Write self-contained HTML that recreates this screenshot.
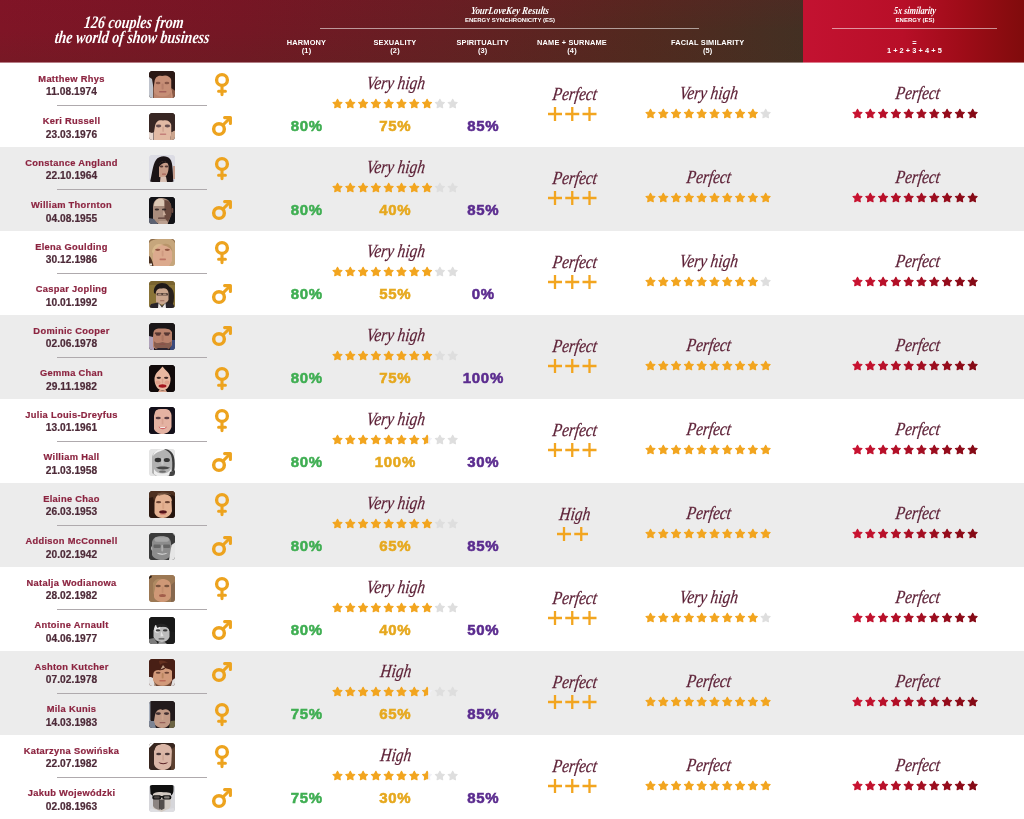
<!DOCTYPE html>
<html lang="en"><head><meta charset="utf-8"><title>126 couples from the world of show business</title>
<style>
html,body{margin:0;padding:0}
body{width:1024px;height:819px;position:relative;overflow:hidden;background:#fff;font-family:"Liberation Sans",sans-serif}
#hl,#hl2{position:absolute;left:0;top:0;width:802.5px;height:62px;background:linear-gradient(180deg,rgba(140,10,40,.10),rgba(140,10,40,0) 50%,rgba(70,50,30,.12)),linear-gradient(90deg,#7f1526 0%,#741724 30%,#661f23 55%,#52291f 80%,#433023 100%)}
#hr,#hr2{position:absolute;left:802.5px;top:0;width:221.5px;height:62px;background:linear-gradient(90deg,#c31231 0%,#b80f28 45%,#9f0c18 72%,#800c0c 100%)}
#hl2,#hr2{top:62px;height:1px;opacity:.55}
.hd{position:absolute;color:#fff;text-align:center;white-space:nowrap}
.ttl{font-family:"Liberation Serif",serif;font-style:italic;font-weight:bold;font-size:17.5px;line-height:15.4px;left:0;width:266px;top:14.6px;transform:scaleX(.8) skewX(-8deg)}
.scr{font-family:"Liberation Serif",serif;font-style:italic;font-weight:bold;font-size:10px;line-height:10px}
.cap{font-weight:bold;font-size:6px;line-height:7px;letter-spacing:0}
.col{font-weight:bold;font-size:7.4px;line-height:8.4px;letter-spacing:.16px;top:38.6px;width:120px}
.ln{position:absolute;height:1px;top:28px;background:rgba(255,255,255,.55)}
.row{position:absolute;left:0;width:1024px;height:84px}
.g{background:#ececec}
.row div,.row svg{position:absolute}
.nm{left:0;width:143px;text-align:center;font-weight:bold;font-size:9.3px;line-height:11px;color:#8c2440;letter-spacing:.32px;white-space:nowrap;-webkit-text-stroke:.2px currentColor}
.dt{left:0;width:143px;text-align:center;font-weight:bold;font-size:10.2px;line-height:11px;color:#4d2a38;letter-spacing:.06px;white-space:nowrap;-webkit-text-stroke:.2px currentColor}
.dv{left:57px;width:149.5px;top:42.3px;height:1px;background:#afaaad}
.av{width:26.5px;height:26.5px;border-radius:3.5px;overflow:hidden}
.av svg{left:0;top:0;filter:blur(.75px)}
.lb{font-family:"Liberation Serif",serif;font-style:italic;font-size:18.5px;line-height:20px;color:#5c1f35;text-align:center;width:120px;white-space:nowrap;transform:scaleX(.83) skewX(-9deg);-webkit-text-stroke:.25px currentColor}
.pc{font-weight:bold;font-size:15px;line-height:14px;text-align:center;width:80px;top:56.9px;white-space:nowrap;letter-spacing:.7px;text-indent:.7px;transform:scaleY(.935);-webkit-text-stroke:.55px currentColor}
.c1{color:#3fae52;left:266.5px}.c2{color:#e6a81e;left:355px}.c3{color:#5b2c8f;left:443px}
</style></head><body>
<div id="hl"></div><div id="hr"></div><div id="hl2"></div><div id="hr2"></div>
<div class="hd ttl">126 couples from<br>the world of show business</div>
<div class="hd scr" style="left:410px;width:200px;top:5.5px;transform:scale(.89,1.08) skewX(-8deg)">YourLoveKey Results</div>
<div class="hd cap" style="left:410px;width:200px;top:16.5px">ENERGY SYNCHRONICITY (ES)</div>
<div class="ln" style="left:320px;width:379px"></div>
<div class="hd col" style="left:246.5px">HARMONY<br>(1)</div>
<div class="hd col" style="left:335px">SEXUALITY<br>(2)</div>
<div class="hd col" style="left:422.7px">SPIRITUALITY<br>(3)</div>
<div class="hd col" style="left:512px">NAME + SURNAME<br>(4)</div>
<div class="hd col" style="left:647.7px">FACIAL SIMILARITY<br>(5)</div>
<div class="hd scr" style="left:815px;width:200px;top:5.5px;transform:scale(.82,1.08) skewX(-8deg)">5x similarity</div>
<div class="hd cap" style="left:815px;width:200px;top:16.5px">ENERGY (ES)</div>
<div class="ln" style="left:832px;width:165px"></div>
<div class="hd col" style="left:854.4px;letter-spacing:.04px">=<br>1 + 2 + 3 + 4 + 5</div>
<div class="row" style="top:62.5px"><div class="nm" style="top:11px">Matthew Rhys</div><div class="dt" style="top:23.7px">11.08.1974</div><div class="dv"></div><div class="nm" style="top:53.3px">Keri Russell</div><div class="dt" style="top:66px">23.03.1976</div><div class="av" style="left:148.5px;top:8.5px;background:#2a1815"><svg width="26.5" height="26.5" viewBox="0 0 26.5 26.5"><g><rect x="-3" y="-3" width="33" height="33" fill="#2a1815"/><rect x="0" y="6" width="4" height="21" fill="#bfc3cc"/><path d="M4.5 27V9C5 4 8 1.5 13 1.5C18 1.5 22 4 22.5 9V17L25 27Z" fill="#c68e76"/><path d="M22.5 17L26.5 20V27H24Z" fill="#8a5a46"/><path d="M0 0H26.5V18L22.5 17V9C21 5 17 3.5 13 5C9 4 6 6 5.5 11L4.5 17L3 8L0 6Z" fill="#2a1815"/><ellipse cx="9.1" cy="12" rx="2.4" ry="1.2" fill="#7c4c40" opacity="0.85"/><ellipse cx="17.9" cy="12" rx="2.4" ry="1.2" fill="#7c4c40" opacity="0.85"/><rect x="12.6" y="12.5" width="2" height="6" fill="#a87060" rx="1" opacity="0.5"/><rect x="10" y="20" width="7.5" height="1.4" fill="#a4605a" rx="0.7"/><path d="M5 21C8 27 19 27 22 21V27H5Z" fill="#b27c66" opacity="0.6"/></g></svg></div><div class="av" style="left:148.5px;top:50.7px;background:#382724"><svg width="26.5" height="26.5" viewBox="0 0 26.5 26.5"><g><rect x="-3" y="-3" width="33" height="33" fill="#382724"/><path d="M5 27V12C6 6 9 4 14 4C19 4 22 6 22.5 12V20L21 27Z" fill="#e2baa4"/><rect x="0" y="19" width="4.5" height="8" fill="#e8d8d0"/><path d="M21 27L22.5 19L26.5 17V27Z" fill="#caa48e"/><path d="M0 0H26.5V17L22.5 19V12C21 8 18 6.5 14 7.5C10 6.5 7 8 6 13L5 19L3 20L0 19Z" fill="#382724"/><ellipse cx="9.6" cy="13" rx="2.7" ry="1.4" fill="#5a4246" opacity="0.9"/><ellipse cx="18.4" cy="13" rx="2.7" ry="1.4" fill="#5a4246" opacity="0.9"/><rect x="13.2" y="13.5" width="1.8" height="5.5" fill="#c89a88" rx="0.9" opacity="0.6"/><rect x="10.8" y="20.5" width="6.5" height="1.5" fill="#c4807a" rx="0.7"/></g></svg></div><svg class="ic" style="left:213.00px;top:9.40px" width="18" height="25" viewBox="0 0 18 25"><g fill="none" stroke="#eda31e" stroke-width="3.1" stroke-linecap="round"><circle cx="9" cy="8" r="5.4" stroke-width="3.35"/><path d="M9 13.7V22.6M5.6 19.3H12.4"/></g></svg><svg class="ic" style="left:210.80px;top:52.40px" width="22" height="22" viewBox="0 0 22 22"><g fill="none" stroke="#eda31e" stroke-width="3.1"><circle cx="8" cy="14" r="5.35" stroke-width="3.45"/><path d="M12 10L19 3"/><path d="M13.6 2.6H19.4V8.4" stroke-linecap="round" stroke-linejoin="round"/></g></svg><div class="lb" style="left:335.8px;top:10.5px">Very high</div><svg class="st" style="left:331.50px;top:35.10px" width="126.2" height="11" viewBox="0 0 126.2 11"><polygon points="5.50,1.20 6.95,3.95 10.02,4.48 7.85,6.71 8.29,9.79 5.50,8.42 2.71,9.79 3.15,6.71 0.98,4.48 4.05,3.95" fill="#f2a51f" stroke="#f2a51f" stroke-width="1.1" stroke-linejoin="round"/><polygon points="18.30,1.20 19.75,3.95 22.82,4.48 20.65,6.71 21.09,9.79 18.30,8.42 15.51,9.79 15.95,6.71 13.78,4.48 16.85,3.95" fill="#f2a51f" stroke="#f2a51f" stroke-width="1.1" stroke-linejoin="round"/><polygon points="31.10,1.20 32.55,3.95 35.62,4.48 33.45,6.71 33.89,9.79 31.10,8.42 28.31,9.79 28.75,6.71 26.58,4.48 29.65,3.95" fill="#f2a51f" stroke="#f2a51f" stroke-width="1.1" stroke-linejoin="round"/><polygon points="43.90,1.20 45.35,3.95 48.42,4.48 46.25,6.71 46.69,9.79 43.90,8.42 41.11,9.79 41.55,6.71 39.38,4.48 42.45,3.95" fill="#f2a51f" stroke="#f2a51f" stroke-width="1.1" stroke-linejoin="round"/><polygon points="56.70,1.20 58.15,3.95 61.22,4.48 59.05,6.71 59.49,9.79 56.70,8.42 53.91,9.79 54.35,6.71 52.18,4.48 55.25,3.95" fill="#f2a51f" stroke="#f2a51f" stroke-width="1.1" stroke-linejoin="round"/><polygon points="69.50,1.20 70.95,3.95 74.02,4.48 71.85,6.71 72.29,9.79 69.50,8.42 66.71,9.79 67.15,6.71 64.98,4.48 68.05,3.95" fill="#f2a51f" stroke="#f2a51f" stroke-width="1.1" stroke-linejoin="round"/><polygon points="82.30,1.20 83.75,3.95 86.82,4.48 84.65,6.71 85.09,9.79 82.30,8.42 79.51,9.79 79.95,6.71 77.78,4.48 80.85,3.95" fill="#f2a51f" stroke="#f2a51f" stroke-width="1.1" stroke-linejoin="round"/><polygon points="95.10,1.20 96.55,3.95 99.62,4.48 97.45,6.71 97.89,9.79 95.10,8.42 92.31,9.79 92.75,6.71 90.58,4.48 93.65,3.95" fill="#f2a51f" stroke="#f2a51f" stroke-width="1.1" stroke-linejoin="round"/><polygon points="107.90,1.20 109.35,3.95 112.42,4.48 110.25,6.71 110.69,9.79 107.90,8.42 105.11,9.79 105.55,6.71 103.38,4.48 106.45,3.95" fill="#dedede" stroke="#dedede" stroke-width="1.1" stroke-linejoin="round"/><polygon points="120.70,1.20 122.15,3.95 125.22,4.48 123.05,6.71 123.49,9.79 120.70,8.42 117.91,9.79 118.35,6.71 116.18,4.48 119.25,3.95" fill="#dedede" stroke="#dedede" stroke-width="1.1" stroke-linejoin="round"/></svg><div class="pc c1">80%</div><div class="pc c2">75%</div><div class="pc c3">85%</div><div class="lb" style="left:515px;top:21px">Perfect</div><svg class="st" style="left:548.05px;top:44.50px" width="48.5" height="14" viewBox="0 0 48.5 14"><g stroke="#f2a51f" stroke-width="2.3"><path d="M0.00 7H14.00M7.00 0V14"/><path d="M17.25 7H31.25M24.25 0V14"/><path d="M34.50 7H48.50M41.50 0V14"/></g></svg><div class="lb" style="left:648.6px;top:20.6px">Very high</div><svg class="st" style="left:645.10px;top:45.70px" width="126.2" height="11" viewBox="0 0 126.2 11"><polygon points="5.50,1.20 6.95,3.95 10.02,4.48 7.85,6.71 8.29,9.79 5.50,8.42 2.71,9.79 3.15,6.71 0.98,4.48 4.05,3.95" fill="#f2a51f" stroke="#f2a51f" stroke-width="1.1" stroke-linejoin="round"/><polygon points="18.30,1.20 19.75,3.95 22.82,4.48 20.65,6.71 21.09,9.79 18.30,8.42 15.51,9.79 15.95,6.71 13.78,4.48 16.85,3.95" fill="#f2a51f" stroke="#f2a51f" stroke-width="1.1" stroke-linejoin="round"/><polygon points="31.10,1.20 32.55,3.95 35.62,4.48 33.45,6.71 33.89,9.79 31.10,8.42 28.31,9.79 28.75,6.71 26.58,4.48 29.65,3.95" fill="#f2a51f" stroke="#f2a51f" stroke-width="1.1" stroke-linejoin="round"/><polygon points="43.90,1.20 45.35,3.95 48.42,4.48 46.25,6.71 46.69,9.79 43.90,8.42 41.11,9.79 41.55,6.71 39.38,4.48 42.45,3.95" fill="#f2a51f" stroke="#f2a51f" stroke-width="1.1" stroke-linejoin="round"/><polygon points="56.70,1.20 58.15,3.95 61.22,4.48 59.05,6.71 59.49,9.79 56.70,8.42 53.91,9.79 54.35,6.71 52.18,4.48 55.25,3.95" fill="#f2a51f" stroke="#f2a51f" stroke-width="1.1" stroke-linejoin="round"/><polygon points="69.50,1.20 70.95,3.95 74.02,4.48 71.85,6.71 72.29,9.79 69.50,8.42 66.71,9.79 67.15,6.71 64.98,4.48 68.05,3.95" fill="#f2a51f" stroke="#f2a51f" stroke-width="1.1" stroke-linejoin="round"/><polygon points="82.30,1.20 83.75,3.95 86.82,4.48 84.65,6.71 85.09,9.79 82.30,8.42 79.51,9.79 79.95,6.71 77.78,4.48 80.85,3.95" fill="#f2a51f" stroke="#f2a51f" stroke-width="1.1" stroke-linejoin="round"/><polygon points="95.10,1.20 96.55,3.95 99.62,4.48 97.45,6.71 97.89,9.79 95.10,8.42 92.31,9.79 92.75,6.71 90.58,4.48 93.65,3.95" fill="#f2a51f" stroke="#f2a51f" stroke-width="1.1" stroke-linejoin="round"/><polygon points="107.90,1.20 109.35,3.95 112.42,4.48 110.25,6.71 110.69,9.79 107.90,8.42 105.11,9.79 105.55,6.71 103.38,4.48 106.45,3.95" fill="#f2a51f" stroke="#f2a51f" stroke-width="1.1" stroke-linejoin="round"/><polygon points="120.70,1.20 122.15,3.95 125.22,4.48 123.05,6.71 123.49,9.79 120.70,8.42 117.91,9.79 118.35,6.71 116.18,4.48 119.25,3.95" fill="#dedede" stroke="#dedede" stroke-width="1.1" stroke-linejoin="round"/></svg><div class="lb" style="left:857.5px;top:20.6px">Perfect</div><svg class="st" style="left:851.75px;top:45.70px" width="126.2" height="11" viewBox="0 0 126.2 11"><polygon points="5.50,1.20 6.95,3.95 10.02,4.48 7.85,6.71 8.29,9.79 5.50,8.42 2.71,9.79 3.15,6.71 0.98,4.48 4.05,3.95" fill="#c81230" stroke="#c81230" stroke-width="1.1" stroke-linejoin="round"/><polygon points="18.30,1.20 19.75,3.95 22.82,4.48 20.65,6.71 21.09,9.79 18.30,8.42 15.51,9.79 15.95,6.71 13.78,4.48 16.85,3.95" fill="#c1112d" stroke="#c1112d" stroke-width="1.1" stroke-linejoin="round"/><polygon points="31.10,1.20 32.55,3.95 35.62,4.48 33.45,6.71 33.89,9.79 31.10,8.42 28.31,9.79 28.75,6.71 26.58,4.48 29.65,3.95" fill="#b9102a" stroke="#b9102a" stroke-width="1.1" stroke-linejoin="round"/><polygon points="43.90,1.20 45.35,3.95 48.42,4.48 46.25,6.71 46.69,9.79 43.90,8.42 41.11,9.79 41.55,6.71 39.38,4.48 42.45,3.95" fill="#b20f27" stroke="#b20f27" stroke-width="1.1" stroke-linejoin="round"/><polygon points="56.70,1.20 58.15,3.95 61.22,4.48 59.05,6.71 59.49,9.79 56.70,8.42 53.91,9.79 54.35,6.71 52.18,4.48 55.25,3.95" fill="#ab0e24" stroke="#ab0e24" stroke-width="1.1" stroke-linejoin="round"/><polygon points="69.50,1.20 70.95,3.95 74.02,4.48 71.85,6.71 72.29,9.79 69.50,8.42 66.71,9.79 67.15,6.71 64.98,4.48 68.05,3.95" fill="#a30e22" stroke="#a30e22" stroke-width="1.1" stroke-linejoin="round"/><polygon points="82.30,1.20 83.75,3.95 86.82,4.48 84.65,6.71 85.09,9.79 82.30,8.42 79.51,9.79 79.95,6.71 77.78,4.48 80.85,3.95" fill="#9c0d1f" stroke="#9c0d1f" stroke-width="1.1" stroke-linejoin="round"/><polygon points="95.10,1.20 96.55,3.95 99.62,4.48 97.45,6.71 97.89,9.79 95.10,8.42 92.31,9.79 92.75,6.71 90.58,4.48 93.65,3.95" fill="#950c1c" stroke="#950c1c" stroke-width="1.1" stroke-linejoin="round"/><polygon points="107.90,1.20 109.35,3.95 112.42,4.48 110.25,6.71 110.69,9.79 107.90,8.42 105.11,9.79 105.55,6.71 103.38,4.48 106.45,3.95" fill="#8d0b19" stroke="#8d0b19" stroke-width="1.1" stroke-linejoin="round"/><polygon points="120.70,1.20 122.15,3.95 125.22,4.48 123.05,6.71 123.49,9.79 120.70,8.42 117.91,9.79 118.35,6.71 116.18,4.48 119.25,3.95" fill="#860a16" stroke="#860a16" stroke-width="1.1" stroke-linejoin="round"/></svg></div>
<div class="row g" style="top:146.5px"><div class="nm" style="top:11px">Constance Angland</div><div class="dt" style="top:23.7px">22.10.1964</div><div class="dv"></div><div class="nm" style="top:53.3px">William Thornton</div><div class="dt" style="top:66px">04.08.1955</div><div class="av" style="left:148.5px;top:8.5px;background:#dcdce4"><svg width="26.5" height="26.5" viewBox="0 0 26.5 26.5"><g><rect x="-3" y="-3" width="33" height="33" fill="#dcdce4"/><path d="M1 27C3 20 3.5 10 7 5C10 0.5 18 0 21 4C24.5 8 23.5 20 24.5 27Z" fill="#1b1315"/><rect x="24" y="11" width="2.5" height="13" fill="#c8a090"/><path d="M10 22V10C11 6.5 14 5.5 16.5 6.5C19 7.5 20 10 19.5 14C19 19 17 22 14.5 22.5Z" fill="#c89c88"/><path d="M11 27L11.5 22L17 21.5L18 27Z" fill="#d8c0b4"/><path d="M10 9C12 5.5 17 5 19.5 8.5C17 7 13 7.5 10 12Z" fill="#1b1315"/><ellipse cx="12.5" cy="11.5" rx="1.8" ry="1.1" fill="#4a302c" opacity="0.9"/><ellipse cx="17.5" cy="11.5" rx="1.8" ry="1.1" fill="#4a302c" opacity="0.9"/><rect x="13" y="18.6" width="4" height="1.2" fill="#a86258" rx="0.6"/></g></svg></div><div class="av" style="left:148.5px;top:50.7px;background:#121216"><svg width="26.5" height="26.5" viewBox="0 0 26.5 26.5"><g><rect x="-3" y="-3" width="33" height="33" fill="#121216"/><path d="M4 24V10C4 4 8 1 12 1C17 1 21 3 22 9V18L19 26L10 27Z" fill="#a88c7c"/><path d="M5 9C5 4 8 1.5 11 1.5C14 1.5 15.5 3 15.5 6V9Z" fill="#dcc8b4"/><path d="M15.5 3C20 3 22.5 6 22.5 11V18L19 25L15.5 21Z" fill="#6a4a3e"/><rect x="22.3" y="11" width="2" height="5" fill="#6a4a40" rx="1"/><ellipse cx="7.9" cy="12.5" rx="2.2" ry="1.1" fill="#2e2220" opacity="0.9"/><ellipse cx="15.1" cy="12.5" rx="2.2" ry="1.1" fill="#2e2220" opacity="0.9"/><path d="M14.5 13L17 18L14 18.5Z" fill="#d0b4a0" opacity="0.9"/><rect x="9" y="20.6" width="7" height="1.2" fill="#5a3c36" rx="0.6"/><path d="M0 27V21L5 22L9 27Z" fill="#5c6272"/><path d="M9 27L10 24L18 24L19 27Z" fill="#bca090"/></g></svg></div><svg class="ic" style="left:213.00px;top:9.40px" width="18" height="25" viewBox="0 0 18 25"><g fill="none" stroke="#eda31e" stroke-width="3.1" stroke-linecap="round"><circle cx="9" cy="8" r="5.4" stroke-width="3.35"/><path d="M9 13.7V22.6M5.6 19.3H12.4"/></g></svg><svg class="ic" style="left:210.80px;top:52.40px" width="22" height="22" viewBox="0 0 22 22"><g fill="none" stroke="#eda31e" stroke-width="3.1"><circle cx="8" cy="14" r="5.35" stroke-width="3.45"/><path d="M12 10L19 3"/><path d="M13.6 2.6H19.4V8.4" stroke-linecap="round" stroke-linejoin="round"/></g></svg><div class="lb" style="left:335.8px;top:10.5px">Very high</div><svg class="st" style="left:331.50px;top:35.10px" width="126.2" height="11" viewBox="0 0 126.2 11"><polygon points="5.50,1.20 6.95,3.95 10.02,4.48 7.85,6.71 8.29,9.79 5.50,8.42 2.71,9.79 3.15,6.71 0.98,4.48 4.05,3.95" fill="#f2a51f" stroke="#f2a51f" stroke-width="1.1" stroke-linejoin="round"/><polygon points="18.30,1.20 19.75,3.95 22.82,4.48 20.65,6.71 21.09,9.79 18.30,8.42 15.51,9.79 15.95,6.71 13.78,4.48 16.85,3.95" fill="#f2a51f" stroke="#f2a51f" stroke-width="1.1" stroke-linejoin="round"/><polygon points="31.10,1.20 32.55,3.95 35.62,4.48 33.45,6.71 33.89,9.79 31.10,8.42 28.31,9.79 28.75,6.71 26.58,4.48 29.65,3.95" fill="#f2a51f" stroke="#f2a51f" stroke-width="1.1" stroke-linejoin="round"/><polygon points="43.90,1.20 45.35,3.95 48.42,4.48 46.25,6.71 46.69,9.79 43.90,8.42 41.11,9.79 41.55,6.71 39.38,4.48 42.45,3.95" fill="#f2a51f" stroke="#f2a51f" stroke-width="1.1" stroke-linejoin="round"/><polygon points="56.70,1.20 58.15,3.95 61.22,4.48 59.05,6.71 59.49,9.79 56.70,8.42 53.91,9.79 54.35,6.71 52.18,4.48 55.25,3.95" fill="#f2a51f" stroke="#f2a51f" stroke-width="1.1" stroke-linejoin="round"/><polygon points="69.50,1.20 70.95,3.95 74.02,4.48 71.85,6.71 72.29,9.79 69.50,8.42 66.71,9.79 67.15,6.71 64.98,4.48 68.05,3.95" fill="#f2a51f" stroke="#f2a51f" stroke-width="1.1" stroke-linejoin="round"/><polygon points="82.30,1.20 83.75,3.95 86.82,4.48 84.65,6.71 85.09,9.79 82.30,8.42 79.51,9.79 79.95,6.71 77.78,4.48 80.85,3.95" fill="#f2a51f" stroke="#f2a51f" stroke-width="1.1" stroke-linejoin="round"/><polygon points="95.10,1.20 96.55,3.95 99.62,4.48 97.45,6.71 97.89,9.79 95.10,8.42 92.31,9.79 92.75,6.71 90.58,4.48 93.65,3.95" fill="#f2a51f" stroke="#f2a51f" stroke-width="1.1" stroke-linejoin="round"/><polygon points="107.90,1.20 109.35,3.95 112.42,4.48 110.25,6.71 110.69,9.79 107.90,8.42 105.11,9.79 105.55,6.71 103.38,4.48 106.45,3.95" fill="#dedede" stroke="#dedede" stroke-width="1.1" stroke-linejoin="round"/><polygon points="120.70,1.20 122.15,3.95 125.22,4.48 123.05,6.71 123.49,9.79 120.70,8.42 117.91,9.79 118.35,6.71 116.18,4.48 119.25,3.95" fill="#dedede" stroke="#dedede" stroke-width="1.1" stroke-linejoin="round"/></svg><div class="pc c1">80%</div><div class="pc c2">40%</div><div class="pc c3">85%</div><div class="lb" style="left:515px;top:21px">Perfect</div><svg class="st" style="left:548.05px;top:44.50px" width="48.5" height="14" viewBox="0 0 48.5 14"><g stroke="#f2a51f" stroke-width="2.3"><path d="M0.00 7H14.00M7.00 0V14"/><path d="M17.25 7H31.25M24.25 0V14"/><path d="M34.50 7H48.50M41.50 0V14"/></g></svg><div class="lb" style="left:648.6px;top:20.6px">Perfect</div><svg class="st" style="left:645.10px;top:45.70px" width="126.2" height="11" viewBox="0 0 126.2 11"><polygon points="5.50,1.20 6.95,3.95 10.02,4.48 7.85,6.71 8.29,9.79 5.50,8.42 2.71,9.79 3.15,6.71 0.98,4.48 4.05,3.95" fill="#f2a51f" stroke="#f2a51f" stroke-width="1.1" stroke-linejoin="round"/><polygon points="18.30,1.20 19.75,3.95 22.82,4.48 20.65,6.71 21.09,9.79 18.30,8.42 15.51,9.79 15.95,6.71 13.78,4.48 16.85,3.95" fill="#f2a51f" stroke="#f2a51f" stroke-width="1.1" stroke-linejoin="round"/><polygon points="31.10,1.20 32.55,3.95 35.62,4.48 33.45,6.71 33.89,9.79 31.10,8.42 28.31,9.79 28.75,6.71 26.58,4.48 29.65,3.95" fill="#f2a51f" stroke="#f2a51f" stroke-width="1.1" stroke-linejoin="round"/><polygon points="43.90,1.20 45.35,3.95 48.42,4.48 46.25,6.71 46.69,9.79 43.90,8.42 41.11,9.79 41.55,6.71 39.38,4.48 42.45,3.95" fill="#f2a51f" stroke="#f2a51f" stroke-width="1.1" stroke-linejoin="round"/><polygon points="56.70,1.20 58.15,3.95 61.22,4.48 59.05,6.71 59.49,9.79 56.70,8.42 53.91,9.79 54.35,6.71 52.18,4.48 55.25,3.95" fill="#f2a51f" stroke="#f2a51f" stroke-width="1.1" stroke-linejoin="round"/><polygon points="69.50,1.20 70.95,3.95 74.02,4.48 71.85,6.71 72.29,9.79 69.50,8.42 66.71,9.79 67.15,6.71 64.98,4.48 68.05,3.95" fill="#f2a51f" stroke="#f2a51f" stroke-width="1.1" stroke-linejoin="round"/><polygon points="82.30,1.20 83.75,3.95 86.82,4.48 84.65,6.71 85.09,9.79 82.30,8.42 79.51,9.79 79.95,6.71 77.78,4.48 80.85,3.95" fill="#f2a51f" stroke="#f2a51f" stroke-width="1.1" stroke-linejoin="round"/><polygon points="95.10,1.20 96.55,3.95 99.62,4.48 97.45,6.71 97.89,9.79 95.10,8.42 92.31,9.79 92.75,6.71 90.58,4.48 93.65,3.95" fill="#f2a51f" stroke="#f2a51f" stroke-width="1.1" stroke-linejoin="round"/><polygon points="107.90,1.20 109.35,3.95 112.42,4.48 110.25,6.71 110.69,9.79 107.90,8.42 105.11,9.79 105.55,6.71 103.38,4.48 106.45,3.95" fill="#f2a51f" stroke="#f2a51f" stroke-width="1.1" stroke-linejoin="round"/><polygon points="120.70,1.20 122.15,3.95 125.22,4.48 123.05,6.71 123.49,9.79 120.70,8.42 117.91,9.79 118.35,6.71 116.18,4.48 119.25,3.95" fill="#f2a51f" stroke="#f2a51f" stroke-width="1.1" stroke-linejoin="round"/></svg><div class="lb" style="left:857.5px;top:20.6px">Perfect</div><svg class="st" style="left:851.75px;top:45.70px" width="126.2" height="11" viewBox="0 0 126.2 11"><polygon points="5.50,1.20 6.95,3.95 10.02,4.48 7.85,6.71 8.29,9.79 5.50,8.42 2.71,9.79 3.15,6.71 0.98,4.48 4.05,3.95" fill="#c81230" stroke="#c81230" stroke-width="1.1" stroke-linejoin="round"/><polygon points="18.30,1.20 19.75,3.95 22.82,4.48 20.65,6.71 21.09,9.79 18.30,8.42 15.51,9.79 15.95,6.71 13.78,4.48 16.85,3.95" fill="#c1112d" stroke="#c1112d" stroke-width="1.1" stroke-linejoin="round"/><polygon points="31.10,1.20 32.55,3.95 35.62,4.48 33.45,6.71 33.89,9.79 31.10,8.42 28.31,9.79 28.75,6.71 26.58,4.48 29.65,3.95" fill="#b9102a" stroke="#b9102a" stroke-width="1.1" stroke-linejoin="round"/><polygon points="43.90,1.20 45.35,3.95 48.42,4.48 46.25,6.71 46.69,9.79 43.90,8.42 41.11,9.79 41.55,6.71 39.38,4.48 42.45,3.95" fill="#b20f27" stroke="#b20f27" stroke-width="1.1" stroke-linejoin="round"/><polygon points="56.70,1.20 58.15,3.95 61.22,4.48 59.05,6.71 59.49,9.79 56.70,8.42 53.91,9.79 54.35,6.71 52.18,4.48 55.25,3.95" fill="#ab0e24" stroke="#ab0e24" stroke-width="1.1" stroke-linejoin="round"/><polygon points="69.50,1.20 70.95,3.95 74.02,4.48 71.85,6.71 72.29,9.79 69.50,8.42 66.71,9.79 67.15,6.71 64.98,4.48 68.05,3.95" fill="#a30e22" stroke="#a30e22" stroke-width="1.1" stroke-linejoin="round"/><polygon points="82.30,1.20 83.75,3.95 86.82,4.48 84.65,6.71 85.09,9.79 82.30,8.42 79.51,9.79 79.95,6.71 77.78,4.48 80.85,3.95" fill="#9c0d1f" stroke="#9c0d1f" stroke-width="1.1" stroke-linejoin="round"/><polygon points="95.10,1.20 96.55,3.95 99.62,4.48 97.45,6.71 97.89,9.79 95.10,8.42 92.31,9.79 92.75,6.71 90.58,4.48 93.65,3.95" fill="#950c1c" stroke="#950c1c" stroke-width="1.1" stroke-linejoin="round"/><polygon points="107.90,1.20 109.35,3.95 112.42,4.48 110.25,6.71 110.69,9.79 107.90,8.42 105.11,9.79 105.55,6.71 103.38,4.48 106.45,3.95" fill="#8d0b19" stroke="#8d0b19" stroke-width="1.1" stroke-linejoin="round"/><polygon points="120.70,1.20 122.15,3.95 125.22,4.48 123.05,6.71 123.49,9.79 120.70,8.42 117.91,9.79 118.35,6.71 116.18,4.48 119.25,3.95" fill="#860a16" stroke="#860a16" stroke-width="1.1" stroke-linejoin="round"/></svg></div>
<div class="row" style="top:230.5px"><div class="nm" style="top:11px">Elena Goulding</div><div class="dt" style="top:23.7px">30.12.1986</div><div class="dv"></div><div class="nm" style="top:53.3px">Caspar Jopling</div><div class="dt" style="top:66px">10.01.1992</div><div class="av" style="left:148.5px;top:8.5px;background:#c6a67c"><svg width="26.5" height="26.5" viewBox="0 0 26.5 26.5"><g><rect x="-3" y="-3" width="33" height="33" fill="#c6a67c"/><path d="M0 0H26.5V27H0Z" fill="#c6a67c"/><path d="M0 4C2 1 6 0 9 0H0ZM22 0C25 1 26.5 4 26.5 8V0Z" fill="#8a6a48"/><path d="M4 27V12C5 7 9 5 14 5.5C19 5 22.5 8 23 13V22L20 27Z" fill="#dcaa8e"/><path d="M0 17C2 18 3.5 22 4.5 27H0Z" fill="#4a3020"/><rect x="0" y="24.5" width="3" height="2" fill="#f0ece8"/><path d="M3 13C4 6 9 3.5 13 6C10 7 6 9 4.5 15Z" fill="#d8b88c"/><path d="M13 6C17 3 23 5 23.5 13C22 9 18 7 13 6Z" fill="#b8946a"/><ellipse cx="8.7" cy="10.8" rx="2.6" ry="1.1" fill="#8a4c3a" opacity="0.9"/><ellipse cx="18.3" cy="10.8" rx="2.6" ry="1.1" fill="#8a4c3a" opacity="0.9"/><rect x="12.7" y="11.5" width="1.8" height="6" fill="#c48c74" rx="0.9" opacity="0.55"/><rect x="10.5" y="19.6" width="6.5" height="1.6" fill="#bc7464" rx="0.8"/></g></svg></div><div class="av" style="left:148.5px;top:50.7px;background:#8a7438"><svg width="26.5" height="26.5" viewBox="0 0 26.5 26.5"><g><rect x="-3" y="-3" width="33" height="33" fill="#8a7438"/><rect x="0" y="0" width="26.5" height="4" fill="#7a6430"/><path d="M17 5C23 5 25.5 10 25 17C25 22 23 25 21 27H17Z" fill="#2a211c"/><path d="M7 21V12C7 8 10 6.5 13 6.5C17 6.5 19.5 9 19.5 13V19C18 22 15 23.5 13 23.5C10.5 23.5 8 22.5 7 21Z" fill="#caa68e"/><path d="M5 12C4 6 8 2 13 2C18 2 22 5 21 11C19 7.5 16 7 13 7.5C9.5 7 7 8.5 6.5 13Z" fill="#1e1818"/><rect x="7.5" y="12" width="11.5" height="2.6" fill="#3a2c28" rx="1.2" opacity="0.8"/><rect x="9" y="12.6" width="3.4" height="1.4" fill="#c8a890" rx="0.6" opacity="0.7"/><rect x="14" y="12.6" width="3.4" height="1.4" fill="#c8a890" rx="0.6" opacity="0.7"/><rect x="11" y="19.2" width="4.5" height="1.1" fill="#9a6a5c" rx="0.5"/><path d="M0 27L2 23L9 21.5L13 25L17 21.5L24 23L26.5 27Z" fill="#29242a"/><path d="M9.5 22L13 26.5L16.5 22L17 27H9Z" fill="#ece8e6"/></g></svg></div><svg class="ic" style="left:213.00px;top:9.40px" width="18" height="25" viewBox="0 0 18 25"><g fill="none" stroke="#eda31e" stroke-width="3.1" stroke-linecap="round"><circle cx="9" cy="8" r="5.4" stroke-width="3.35"/><path d="M9 13.7V22.6M5.6 19.3H12.4"/></g></svg><svg class="ic" style="left:210.80px;top:52.40px" width="22" height="22" viewBox="0 0 22 22"><g fill="none" stroke="#eda31e" stroke-width="3.1"><circle cx="8" cy="14" r="5.35" stroke-width="3.45"/><path d="M12 10L19 3"/><path d="M13.6 2.6H19.4V8.4" stroke-linecap="round" stroke-linejoin="round"/></g></svg><div class="lb" style="left:335.8px;top:10.5px">Very high</div><svg class="st" style="left:331.50px;top:35.10px" width="126.2" height="11" viewBox="0 0 126.2 11"><polygon points="5.50,1.20 6.95,3.95 10.02,4.48 7.85,6.71 8.29,9.79 5.50,8.42 2.71,9.79 3.15,6.71 0.98,4.48 4.05,3.95" fill="#f2a51f" stroke="#f2a51f" stroke-width="1.1" stroke-linejoin="round"/><polygon points="18.30,1.20 19.75,3.95 22.82,4.48 20.65,6.71 21.09,9.79 18.30,8.42 15.51,9.79 15.95,6.71 13.78,4.48 16.85,3.95" fill="#f2a51f" stroke="#f2a51f" stroke-width="1.1" stroke-linejoin="round"/><polygon points="31.10,1.20 32.55,3.95 35.62,4.48 33.45,6.71 33.89,9.79 31.10,8.42 28.31,9.79 28.75,6.71 26.58,4.48 29.65,3.95" fill="#f2a51f" stroke="#f2a51f" stroke-width="1.1" stroke-linejoin="round"/><polygon points="43.90,1.20 45.35,3.95 48.42,4.48 46.25,6.71 46.69,9.79 43.90,8.42 41.11,9.79 41.55,6.71 39.38,4.48 42.45,3.95" fill="#f2a51f" stroke="#f2a51f" stroke-width="1.1" stroke-linejoin="round"/><polygon points="56.70,1.20 58.15,3.95 61.22,4.48 59.05,6.71 59.49,9.79 56.70,8.42 53.91,9.79 54.35,6.71 52.18,4.48 55.25,3.95" fill="#f2a51f" stroke="#f2a51f" stroke-width="1.1" stroke-linejoin="round"/><polygon points="69.50,1.20 70.95,3.95 74.02,4.48 71.85,6.71 72.29,9.79 69.50,8.42 66.71,9.79 67.15,6.71 64.98,4.48 68.05,3.95" fill="#f2a51f" stroke="#f2a51f" stroke-width="1.1" stroke-linejoin="round"/><polygon points="82.30,1.20 83.75,3.95 86.82,4.48 84.65,6.71 85.09,9.79 82.30,8.42 79.51,9.79 79.95,6.71 77.78,4.48 80.85,3.95" fill="#f2a51f" stroke="#f2a51f" stroke-width="1.1" stroke-linejoin="round"/><polygon points="95.10,1.20 96.55,3.95 99.62,4.48 97.45,6.71 97.89,9.79 95.10,8.42 92.31,9.79 92.75,6.71 90.58,4.48 93.65,3.95" fill="#f2a51f" stroke="#f2a51f" stroke-width="1.1" stroke-linejoin="round"/><polygon points="107.90,1.20 109.35,3.95 112.42,4.48 110.25,6.71 110.69,9.79 107.90,8.42 105.11,9.79 105.55,6.71 103.38,4.48 106.45,3.95" fill="#dedede" stroke="#dedede" stroke-width="1.1" stroke-linejoin="round"/><polygon points="120.70,1.20 122.15,3.95 125.22,4.48 123.05,6.71 123.49,9.79 120.70,8.42 117.91,9.79 118.35,6.71 116.18,4.48 119.25,3.95" fill="#dedede" stroke="#dedede" stroke-width="1.1" stroke-linejoin="round"/></svg><div class="pc c1">80%</div><div class="pc c2">55%</div><div class="pc c3">0%</div><div class="lb" style="left:515px;top:21px">Perfect</div><svg class="st" style="left:548.05px;top:44.50px" width="48.5" height="14" viewBox="0 0 48.5 14"><g stroke="#f2a51f" stroke-width="2.3"><path d="M0.00 7H14.00M7.00 0V14"/><path d="M17.25 7H31.25M24.25 0V14"/><path d="M34.50 7H48.50M41.50 0V14"/></g></svg><div class="lb" style="left:648.6px;top:20.6px">Very high</div><svg class="st" style="left:645.10px;top:45.70px" width="126.2" height="11" viewBox="0 0 126.2 11"><polygon points="5.50,1.20 6.95,3.95 10.02,4.48 7.85,6.71 8.29,9.79 5.50,8.42 2.71,9.79 3.15,6.71 0.98,4.48 4.05,3.95" fill="#f2a51f" stroke="#f2a51f" stroke-width="1.1" stroke-linejoin="round"/><polygon points="18.30,1.20 19.75,3.95 22.82,4.48 20.65,6.71 21.09,9.79 18.30,8.42 15.51,9.79 15.95,6.71 13.78,4.48 16.85,3.95" fill="#f2a51f" stroke="#f2a51f" stroke-width="1.1" stroke-linejoin="round"/><polygon points="31.10,1.20 32.55,3.95 35.62,4.48 33.45,6.71 33.89,9.79 31.10,8.42 28.31,9.79 28.75,6.71 26.58,4.48 29.65,3.95" fill="#f2a51f" stroke="#f2a51f" stroke-width="1.1" stroke-linejoin="round"/><polygon points="43.90,1.20 45.35,3.95 48.42,4.48 46.25,6.71 46.69,9.79 43.90,8.42 41.11,9.79 41.55,6.71 39.38,4.48 42.45,3.95" fill="#f2a51f" stroke="#f2a51f" stroke-width="1.1" stroke-linejoin="round"/><polygon points="56.70,1.20 58.15,3.95 61.22,4.48 59.05,6.71 59.49,9.79 56.70,8.42 53.91,9.79 54.35,6.71 52.18,4.48 55.25,3.95" fill="#f2a51f" stroke="#f2a51f" stroke-width="1.1" stroke-linejoin="round"/><polygon points="69.50,1.20 70.95,3.95 74.02,4.48 71.85,6.71 72.29,9.79 69.50,8.42 66.71,9.79 67.15,6.71 64.98,4.48 68.05,3.95" fill="#f2a51f" stroke="#f2a51f" stroke-width="1.1" stroke-linejoin="round"/><polygon points="82.30,1.20 83.75,3.95 86.82,4.48 84.65,6.71 85.09,9.79 82.30,8.42 79.51,9.79 79.95,6.71 77.78,4.48 80.85,3.95" fill="#f2a51f" stroke="#f2a51f" stroke-width="1.1" stroke-linejoin="round"/><polygon points="95.10,1.20 96.55,3.95 99.62,4.48 97.45,6.71 97.89,9.79 95.10,8.42 92.31,9.79 92.75,6.71 90.58,4.48 93.65,3.95" fill="#f2a51f" stroke="#f2a51f" stroke-width="1.1" stroke-linejoin="round"/><polygon points="107.90,1.20 109.35,3.95 112.42,4.48 110.25,6.71 110.69,9.79 107.90,8.42 105.11,9.79 105.55,6.71 103.38,4.48 106.45,3.95" fill="#f2a51f" stroke="#f2a51f" stroke-width="1.1" stroke-linejoin="round"/><polygon points="120.70,1.20 122.15,3.95 125.22,4.48 123.05,6.71 123.49,9.79 120.70,8.42 117.91,9.79 118.35,6.71 116.18,4.48 119.25,3.95" fill="#dedede" stroke="#dedede" stroke-width="1.1" stroke-linejoin="round"/></svg><div class="lb" style="left:857.5px;top:20.6px">Perfect</div><svg class="st" style="left:851.75px;top:45.70px" width="126.2" height="11" viewBox="0 0 126.2 11"><polygon points="5.50,1.20 6.95,3.95 10.02,4.48 7.85,6.71 8.29,9.79 5.50,8.42 2.71,9.79 3.15,6.71 0.98,4.48 4.05,3.95" fill="#c81230" stroke="#c81230" stroke-width="1.1" stroke-linejoin="round"/><polygon points="18.30,1.20 19.75,3.95 22.82,4.48 20.65,6.71 21.09,9.79 18.30,8.42 15.51,9.79 15.95,6.71 13.78,4.48 16.85,3.95" fill="#c1112d" stroke="#c1112d" stroke-width="1.1" stroke-linejoin="round"/><polygon points="31.10,1.20 32.55,3.95 35.62,4.48 33.45,6.71 33.89,9.79 31.10,8.42 28.31,9.79 28.75,6.71 26.58,4.48 29.65,3.95" fill="#b9102a" stroke="#b9102a" stroke-width="1.1" stroke-linejoin="round"/><polygon points="43.90,1.20 45.35,3.95 48.42,4.48 46.25,6.71 46.69,9.79 43.90,8.42 41.11,9.79 41.55,6.71 39.38,4.48 42.45,3.95" fill="#b20f27" stroke="#b20f27" stroke-width="1.1" stroke-linejoin="round"/><polygon points="56.70,1.20 58.15,3.95 61.22,4.48 59.05,6.71 59.49,9.79 56.70,8.42 53.91,9.79 54.35,6.71 52.18,4.48 55.25,3.95" fill="#ab0e24" stroke="#ab0e24" stroke-width="1.1" stroke-linejoin="round"/><polygon points="69.50,1.20 70.95,3.95 74.02,4.48 71.85,6.71 72.29,9.79 69.50,8.42 66.71,9.79 67.15,6.71 64.98,4.48 68.05,3.95" fill="#a30e22" stroke="#a30e22" stroke-width="1.1" stroke-linejoin="round"/><polygon points="82.30,1.20 83.75,3.95 86.82,4.48 84.65,6.71 85.09,9.79 82.30,8.42 79.51,9.79 79.95,6.71 77.78,4.48 80.85,3.95" fill="#9c0d1f" stroke="#9c0d1f" stroke-width="1.1" stroke-linejoin="round"/><polygon points="95.10,1.20 96.55,3.95 99.62,4.48 97.45,6.71 97.89,9.79 95.10,8.42 92.31,9.79 92.75,6.71 90.58,4.48 93.65,3.95" fill="#950c1c" stroke="#950c1c" stroke-width="1.1" stroke-linejoin="round"/><polygon points="107.90,1.20 109.35,3.95 112.42,4.48 110.25,6.71 110.69,9.79 107.90,8.42 105.11,9.79 105.55,6.71 103.38,4.48 106.45,3.95" fill="#8d0b19" stroke="#8d0b19" stroke-width="1.1" stroke-linejoin="round"/><polygon points="120.70,1.20 122.15,3.95 125.22,4.48 123.05,6.71 123.49,9.79 120.70,8.42 117.91,9.79 118.35,6.71 116.18,4.48 119.25,3.95" fill="#860a16" stroke="#860a16" stroke-width="1.1" stroke-linejoin="round"/></svg></div>
<div class="row g" style="top:314.5px"><div class="nm" style="top:11px">Dominic Cooper</div><div class="dt" style="top:23.7px">02.06.1978</div><div class="dv"></div><div class="nm" style="top:53.3px">Gemma Chan</div><div class="dt" style="top:66px">29.11.1982</div><div class="av" style="left:148.5px;top:8.5px;background:#1a1618"><svg width="26.5" height="26.5" viewBox="0 0 26.5 26.5"><g><rect x="-3" y="-3" width="33" height="33" fill="#1a1618"/><rect x="0" y="11" width="5" height="16" fill="#b0a2ba"/><path d="M22 17H26.5V27H21Z" fill="#3a4a7c"/><path d="M4 24V9C5 4.5 9 3 13.5 3C18 3 22 4.5 23 9V22L19 27H8Z" fill="#ba826c"/><path d="M0 0H26.5V13L23.5 14L23 9C21 5.5 17 5.5 13.5 5.5C10 5.5 6 5 4.5 9L4 14L0 13Z" fill="#1a1618"/><rect x="5.8" y="9.6" width="6.4" height="1.1" fill="#2a1a1a" rx="0.5" opacity="0.85"/><rect x="14.8" y="9.6" width="6.4" height="1.1" fill="#2a1a1a" rx="0.5" opacity="0.85"/><ellipse cx="9.1" cy="11.6" rx="2.5" ry="1.2" fill="#47292a" opacity="0.85"/><ellipse cx="17.9" cy="11.6" rx="2.5" ry="1.2" fill="#47292a" opacity="0.85"/><rect x="12.6" y="12" width="2" height="6" fill="#a06c5a" rx="1" opacity="0.6"/><path d="M5 18C7 21 10 20 13.5 19C17 20 20 21 22.5 18V23L19 27H8L5 23Z" fill="#7a5448" opacity="0.8"/><rect x="10.5" y="20.5" width="6" height="1.2" fill="#8c5048" rx="0.6"/><path d="M6 27L9 25H18L21 27Z" fill="#2a2430"/></g></svg></div><div class="av" style="left:148.5px;top:50.7px;background:#110a0a"><svg width="26.5" height="26.5" viewBox="0 0 26.5 26.5"><g><rect x="-3" y="-3" width="33" height="33" fill="#110a0a"/><path d="M13.5 1.5C15.5 4.5 20.5 7 21.5 13C22 20 18 25.5 13.5 25.5C9 25.5 5 20 5.5 13C6.5 7 11.5 4.5 13.5 1.5Z" fill="#e8b8a0"/><ellipse cx="9" cy="17.5" rx="2.6" ry="2" fill="#d88c78" opacity="0.55"/><ellipse cx="18" cy="17.5" rx="2.6" ry="2" fill="#d88c78" opacity="0.55"/><ellipse cx="9.8" cy="12.8" rx="2.2" ry="1.1" fill="#2c1a18" opacity="0.9"/><ellipse cx="17.2" cy="12.8" rx="2.2" ry="1.1" fill="#2c1a18" opacity="0.9"/><rect x="12.8" y="13.5" width="1.5" height="5" fill="#c89078" rx="0.7" opacity="0.5"/><ellipse cx="13.5" cy="21" rx="4" ry="1.7" fill="#a4161e"/><path d="M9 27L10.5 24.5C12.5 26 14.5 26 16.5 24.5L18 27Z" fill="#d8a48c"/></g></svg></div><svg class="ic" style="left:210.80px;top:10.40px" width="22" height="22" viewBox="0 0 22 22"><g fill="none" stroke="#eda31e" stroke-width="3.1"><circle cx="8" cy="14" r="5.35" stroke-width="3.45"/><path d="M12 10L19 3"/><path d="M13.6 2.6H19.4V8.4" stroke-linecap="round" stroke-linejoin="round"/></g></svg><svg class="ic" style="left:213.00px;top:51.40px" width="18" height="25" viewBox="0 0 18 25"><g fill="none" stroke="#eda31e" stroke-width="3.1" stroke-linecap="round"><circle cx="9" cy="8" r="5.4" stroke-width="3.35"/><path d="M9 13.7V22.6M5.6 19.3H12.4"/></g></svg><div class="lb" style="left:335.8px;top:10.5px">Very high</div><svg class="st" style="left:331.50px;top:35.10px" width="126.2" height="11" viewBox="0 0 126.2 11"><polygon points="5.50,1.20 6.95,3.95 10.02,4.48 7.85,6.71 8.29,9.79 5.50,8.42 2.71,9.79 3.15,6.71 0.98,4.48 4.05,3.95" fill="#f2a51f" stroke="#f2a51f" stroke-width="1.1" stroke-linejoin="round"/><polygon points="18.30,1.20 19.75,3.95 22.82,4.48 20.65,6.71 21.09,9.79 18.30,8.42 15.51,9.79 15.95,6.71 13.78,4.48 16.85,3.95" fill="#f2a51f" stroke="#f2a51f" stroke-width="1.1" stroke-linejoin="round"/><polygon points="31.10,1.20 32.55,3.95 35.62,4.48 33.45,6.71 33.89,9.79 31.10,8.42 28.31,9.79 28.75,6.71 26.58,4.48 29.65,3.95" fill="#f2a51f" stroke="#f2a51f" stroke-width="1.1" stroke-linejoin="round"/><polygon points="43.90,1.20 45.35,3.95 48.42,4.48 46.25,6.71 46.69,9.79 43.90,8.42 41.11,9.79 41.55,6.71 39.38,4.48 42.45,3.95" fill="#f2a51f" stroke="#f2a51f" stroke-width="1.1" stroke-linejoin="round"/><polygon points="56.70,1.20 58.15,3.95 61.22,4.48 59.05,6.71 59.49,9.79 56.70,8.42 53.91,9.79 54.35,6.71 52.18,4.48 55.25,3.95" fill="#f2a51f" stroke="#f2a51f" stroke-width="1.1" stroke-linejoin="round"/><polygon points="69.50,1.20 70.95,3.95 74.02,4.48 71.85,6.71 72.29,9.79 69.50,8.42 66.71,9.79 67.15,6.71 64.98,4.48 68.05,3.95" fill="#f2a51f" stroke="#f2a51f" stroke-width="1.1" stroke-linejoin="round"/><polygon points="82.30,1.20 83.75,3.95 86.82,4.48 84.65,6.71 85.09,9.79 82.30,8.42 79.51,9.79 79.95,6.71 77.78,4.48 80.85,3.95" fill="#f2a51f" stroke="#f2a51f" stroke-width="1.1" stroke-linejoin="round"/><polygon points="95.10,1.20 96.55,3.95 99.62,4.48 97.45,6.71 97.89,9.79 95.10,8.42 92.31,9.79 92.75,6.71 90.58,4.48 93.65,3.95" fill="#f2a51f" stroke="#f2a51f" stroke-width="1.1" stroke-linejoin="round"/><polygon points="107.90,1.20 109.35,3.95 112.42,4.48 110.25,6.71 110.69,9.79 107.90,8.42 105.11,9.79 105.55,6.71 103.38,4.48 106.45,3.95" fill="#dedede" stroke="#dedede" stroke-width="1.1" stroke-linejoin="round"/><polygon points="120.70,1.20 122.15,3.95 125.22,4.48 123.05,6.71 123.49,9.79 120.70,8.42 117.91,9.79 118.35,6.71 116.18,4.48 119.25,3.95" fill="#dedede" stroke="#dedede" stroke-width="1.1" stroke-linejoin="round"/></svg><div class="pc c1">80%</div><div class="pc c2">75%</div><div class="pc c3">100%</div><div class="lb" style="left:515px;top:21px">Perfect</div><svg class="st" style="left:548.05px;top:44.50px" width="48.5" height="14" viewBox="0 0 48.5 14"><g stroke="#f2a51f" stroke-width="2.3"><path d="M0.00 7H14.00M7.00 0V14"/><path d="M17.25 7H31.25M24.25 0V14"/><path d="M34.50 7H48.50M41.50 0V14"/></g></svg><div class="lb" style="left:648.6px;top:20.6px">Perfect</div><svg class="st" style="left:645.10px;top:45.70px" width="126.2" height="11" viewBox="0 0 126.2 11"><polygon points="5.50,1.20 6.95,3.95 10.02,4.48 7.85,6.71 8.29,9.79 5.50,8.42 2.71,9.79 3.15,6.71 0.98,4.48 4.05,3.95" fill="#f2a51f" stroke="#f2a51f" stroke-width="1.1" stroke-linejoin="round"/><polygon points="18.30,1.20 19.75,3.95 22.82,4.48 20.65,6.71 21.09,9.79 18.30,8.42 15.51,9.79 15.95,6.71 13.78,4.48 16.85,3.95" fill="#f2a51f" stroke="#f2a51f" stroke-width="1.1" stroke-linejoin="round"/><polygon points="31.10,1.20 32.55,3.95 35.62,4.48 33.45,6.71 33.89,9.79 31.10,8.42 28.31,9.79 28.75,6.71 26.58,4.48 29.65,3.95" fill="#f2a51f" stroke="#f2a51f" stroke-width="1.1" stroke-linejoin="round"/><polygon points="43.90,1.20 45.35,3.95 48.42,4.48 46.25,6.71 46.69,9.79 43.90,8.42 41.11,9.79 41.55,6.71 39.38,4.48 42.45,3.95" fill="#f2a51f" stroke="#f2a51f" stroke-width="1.1" stroke-linejoin="round"/><polygon points="56.70,1.20 58.15,3.95 61.22,4.48 59.05,6.71 59.49,9.79 56.70,8.42 53.91,9.79 54.35,6.71 52.18,4.48 55.25,3.95" fill="#f2a51f" stroke="#f2a51f" stroke-width="1.1" stroke-linejoin="round"/><polygon points="69.50,1.20 70.95,3.95 74.02,4.48 71.85,6.71 72.29,9.79 69.50,8.42 66.71,9.79 67.15,6.71 64.98,4.48 68.05,3.95" fill="#f2a51f" stroke="#f2a51f" stroke-width="1.1" stroke-linejoin="round"/><polygon points="82.30,1.20 83.75,3.95 86.82,4.48 84.65,6.71 85.09,9.79 82.30,8.42 79.51,9.79 79.95,6.71 77.78,4.48 80.85,3.95" fill="#f2a51f" stroke="#f2a51f" stroke-width="1.1" stroke-linejoin="round"/><polygon points="95.10,1.20 96.55,3.95 99.62,4.48 97.45,6.71 97.89,9.79 95.10,8.42 92.31,9.79 92.75,6.71 90.58,4.48 93.65,3.95" fill="#f2a51f" stroke="#f2a51f" stroke-width="1.1" stroke-linejoin="round"/><polygon points="107.90,1.20 109.35,3.95 112.42,4.48 110.25,6.71 110.69,9.79 107.90,8.42 105.11,9.79 105.55,6.71 103.38,4.48 106.45,3.95" fill="#f2a51f" stroke="#f2a51f" stroke-width="1.1" stroke-linejoin="round"/><polygon points="120.70,1.20 122.15,3.95 125.22,4.48 123.05,6.71 123.49,9.79 120.70,8.42 117.91,9.79 118.35,6.71 116.18,4.48 119.25,3.95" fill="#f2a51f" stroke="#f2a51f" stroke-width="1.1" stroke-linejoin="round"/></svg><div class="lb" style="left:857.5px;top:20.6px">Perfect</div><svg class="st" style="left:851.75px;top:45.70px" width="126.2" height="11" viewBox="0 0 126.2 11"><polygon points="5.50,1.20 6.95,3.95 10.02,4.48 7.85,6.71 8.29,9.79 5.50,8.42 2.71,9.79 3.15,6.71 0.98,4.48 4.05,3.95" fill="#c81230" stroke="#c81230" stroke-width="1.1" stroke-linejoin="round"/><polygon points="18.30,1.20 19.75,3.95 22.82,4.48 20.65,6.71 21.09,9.79 18.30,8.42 15.51,9.79 15.95,6.71 13.78,4.48 16.85,3.95" fill="#c1112d" stroke="#c1112d" stroke-width="1.1" stroke-linejoin="round"/><polygon points="31.10,1.20 32.55,3.95 35.62,4.48 33.45,6.71 33.89,9.79 31.10,8.42 28.31,9.79 28.75,6.71 26.58,4.48 29.65,3.95" fill="#b9102a" stroke="#b9102a" stroke-width="1.1" stroke-linejoin="round"/><polygon points="43.90,1.20 45.35,3.95 48.42,4.48 46.25,6.71 46.69,9.79 43.90,8.42 41.11,9.79 41.55,6.71 39.38,4.48 42.45,3.95" fill="#b20f27" stroke="#b20f27" stroke-width="1.1" stroke-linejoin="round"/><polygon points="56.70,1.20 58.15,3.95 61.22,4.48 59.05,6.71 59.49,9.79 56.70,8.42 53.91,9.79 54.35,6.71 52.18,4.48 55.25,3.95" fill="#ab0e24" stroke="#ab0e24" stroke-width="1.1" stroke-linejoin="round"/><polygon points="69.50,1.20 70.95,3.95 74.02,4.48 71.85,6.71 72.29,9.79 69.50,8.42 66.71,9.79 67.15,6.71 64.98,4.48 68.05,3.95" fill="#a30e22" stroke="#a30e22" stroke-width="1.1" stroke-linejoin="round"/><polygon points="82.30,1.20 83.75,3.95 86.82,4.48 84.65,6.71 85.09,9.79 82.30,8.42 79.51,9.79 79.95,6.71 77.78,4.48 80.85,3.95" fill="#9c0d1f" stroke="#9c0d1f" stroke-width="1.1" stroke-linejoin="round"/><polygon points="95.10,1.20 96.55,3.95 99.62,4.48 97.45,6.71 97.89,9.79 95.10,8.42 92.31,9.79 92.75,6.71 90.58,4.48 93.65,3.95" fill="#950c1c" stroke="#950c1c" stroke-width="1.1" stroke-linejoin="round"/><polygon points="107.90,1.20 109.35,3.95 112.42,4.48 110.25,6.71 110.69,9.79 107.90,8.42 105.11,9.79 105.55,6.71 103.38,4.48 106.45,3.95" fill="#8d0b19" stroke="#8d0b19" stroke-width="1.1" stroke-linejoin="round"/><polygon points="120.70,1.20 122.15,3.95 125.22,4.48 123.05,6.71 123.49,9.79 120.70,8.42 117.91,9.79 118.35,6.71 116.18,4.48 119.25,3.95" fill="#860a16" stroke="#860a16" stroke-width="1.1" stroke-linejoin="round"/></svg></div>
<div class="row" style="top:398.5px"><div class="nm" style="top:11px">Julia Louis-Dreyfus</div><div class="dt" style="top:23.7px">13.01.1961</div><div class="dv"></div><div class="nm" style="top:53.3px">William Hall</div><div class="dt" style="top:66px">21.03.1958</div><div class="av" style="left:148.5px;top:8.5px;background:#14101a"><svg width="26.5" height="26.5" viewBox="0 0 26.5 26.5"><g><rect x="-3" y="-3" width="33" height="33" fill="#14101a"/><path d="M5 22V8C6 3 9 1 13.5 1C18 1 21.5 3 22.5 8V20C21 25 17 27 13.5 27C10 27 6.5 25.5 5 22Z" fill="#e4b2a2"/><path d="M0 0H26.5V3H22C19 1.5 9 1.5 6 3L5 9L4 3H0Z" fill="#14101a"/><ellipse cx="9.2" cy="11" rx="2.6" ry="1.3" fill="#4a3038" opacity="0.9"/><ellipse cx="17.8" cy="11" rx="2.6" ry="1.3" fill="#4a3038" opacity="0.9"/><rect x="12.7" y="11.5" width="1.7" height="6" fill="#cc9484" rx="0.8" opacity="0.55"/><path d="M9.5 19.5C12 21 15.5 21 18 19.5C16.5 23 11 23 9.5 19.5Z" fill="#cc6468"/><rect x="11" y="20" width="5.4" height="0.9" fill="#f4e8e4" rx="0.4"/></g></svg></div><div class="av" style="left:148.5px;top:50.7px;background:#e4e4e4"><svg width="26.5" height="26.5" viewBox="0 0 26.5 26.5"><g><rect x="-3" y="-3" width="33" height="33" fill="#e4e4e4"/><path d="M3 24V8C4 3 8 0.5 13 0.5C19 0.5 23 3 24 9V22L20 27H7Z" fill="#b2b2b2"/><path d="M4 7C5 2 9 0 13 0C15 0 16 0.5 16 0.5C12 2 7 3 4 7Z" fill="#f2f2f2"/><path d="M15 0C21 0 25 4 25.5 11C26 16 25.5 20 25 22L23 22C23.5 16 23.5 10 22 6C20.5 3 18 1.5 15 0Z" fill="#3a3a3a"/><ellipse cx="9" cy="11" rx="3.3" ry="2.2" fill="#262626" opacity="0.92"/><ellipse cx="17.8" cy="11" rx="3.1" ry="2.1" fill="#2a2a2a" opacity="0.92"/><rect x="12.3" y="9" width="2.2" height="7" fill="#c8c8c8" rx="1" opacity="0.8"/><path d="M7 18.5C10 17 17 17 21 18.5C19 21 9 21 7 18.5Z" fill="#383838" opacity="0.9"/><path d="M5 20C8 26 19 26 22 20L22 25L18 27H8L5 25Z" fill="#ececec"/><ellipse cx="13.5" cy="22.6" rx="3.4" ry="1.2" fill="#5a5a5a" opacity="0.8"/><path d="M21 23L26.5 21V27H20Z" fill="#444"/></g></svg></div><svg class="ic" style="left:213.00px;top:9.40px" width="18" height="25" viewBox="0 0 18 25"><g fill="none" stroke="#eda31e" stroke-width="3.1" stroke-linecap="round"><circle cx="9" cy="8" r="5.4" stroke-width="3.35"/><path d="M9 13.7V22.6M5.6 19.3H12.4"/></g></svg><svg class="ic" style="left:210.80px;top:52.40px" width="22" height="22" viewBox="0 0 22 22"><g fill="none" stroke="#eda31e" stroke-width="3.1"><circle cx="8" cy="14" r="5.35" stroke-width="3.45"/><path d="M12 10L19 3"/><path d="M13.6 2.6H19.4V8.4" stroke-linecap="round" stroke-linejoin="round"/></g></svg><div class="lb" style="left:335.8px;top:10.5px">Very high</div><svg class="st" style="left:331.50px;top:35.10px" width="126.2" height="11" viewBox="0 0 126.2 11"><polygon points="5.50,1.20 6.95,3.95 10.02,4.48 7.85,6.71 8.29,9.79 5.50,8.42 2.71,9.79 3.15,6.71 0.98,4.48 4.05,3.95" fill="#f2a51f" stroke="#f2a51f" stroke-width="1.1" stroke-linejoin="round"/><polygon points="18.30,1.20 19.75,3.95 22.82,4.48 20.65,6.71 21.09,9.79 18.30,8.42 15.51,9.79 15.95,6.71 13.78,4.48 16.85,3.95" fill="#f2a51f" stroke="#f2a51f" stroke-width="1.1" stroke-linejoin="round"/><polygon points="31.10,1.20 32.55,3.95 35.62,4.48 33.45,6.71 33.89,9.79 31.10,8.42 28.31,9.79 28.75,6.71 26.58,4.48 29.65,3.95" fill="#f2a51f" stroke="#f2a51f" stroke-width="1.1" stroke-linejoin="round"/><polygon points="43.90,1.20 45.35,3.95 48.42,4.48 46.25,6.71 46.69,9.79 43.90,8.42 41.11,9.79 41.55,6.71 39.38,4.48 42.45,3.95" fill="#f2a51f" stroke="#f2a51f" stroke-width="1.1" stroke-linejoin="round"/><polygon points="56.70,1.20 58.15,3.95 61.22,4.48 59.05,6.71 59.49,9.79 56.70,8.42 53.91,9.79 54.35,6.71 52.18,4.48 55.25,3.95" fill="#f2a51f" stroke="#f2a51f" stroke-width="1.1" stroke-linejoin="round"/><polygon points="69.50,1.20 70.95,3.95 74.02,4.48 71.85,6.71 72.29,9.79 69.50,8.42 66.71,9.79 67.15,6.71 64.98,4.48 68.05,3.95" fill="#f2a51f" stroke="#f2a51f" stroke-width="1.1" stroke-linejoin="round"/><polygon points="82.30,1.20 83.75,3.95 86.82,4.48 84.65,6.71 85.09,9.79 82.30,8.42 79.51,9.79 79.95,6.71 77.78,4.48 80.85,3.95" fill="#f2a51f" stroke="#f2a51f" stroke-width="1.1" stroke-linejoin="round"/><polygon points="95.10,1.20 96.55,3.95 99.62,4.48 97.45,6.71 97.89,9.79 95.10,8.42 92.31,9.79 92.75,6.71 90.58,4.48 93.65,3.95" fill="#f0f0f6" stroke="#f0f0f6" stroke-width="1.1" stroke-linejoin="round"/><polygon points="95.10,1.20 95.60,2.15 95.60,8.67 95.10,8.42 92.31,9.79 92.75,6.71 90.58,4.48 93.65,3.95" fill="#f2a51f" stroke="#f2a51f" stroke-width="1.1" stroke-linejoin="round"/><polygon points="107.90,1.20 109.35,3.95 112.42,4.48 110.25,6.71 110.69,9.79 107.90,8.42 105.11,9.79 105.55,6.71 103.38,4.48 106.45,3.95" fill="#dedede" stroke="#dedede" stroke-width="1.1" stroke-linejoin="round"/><polygon points="120.70,1.20 122.15,3.95 125.22,4.48 123.05,6.71 123.49,9.79 120.70,8.42 117.91,9.79 118.35,6.71 116.18,4.48 119.25,3.95" fill="#dedede" stroke="#dedede" stroke-width="1.1" stroke-linejoin="round"/></svg><div class="pc c1">80%</div><div class="pc c2">100%</div><div class="pc c3">30%</div><div class="lb" style="left:515px;top:21px">Perfect</div><svg class="st" style="left:548.05px;top:44.50px" width="48.5" height="14" viewBox="0 0 48.5 14"><g stroke="#f2a51f" stroke-width="2.3"><path d="M0.00 7H14.00M7.00 0V14"/><path d="M17.25 7H31.25M24.25 0V14"/><path d="M34.50 7H48.50M41.50 0V14"/></g></svg><div class="lb" style="left:648.6px;top:20.6px">Perfect</div><svg class="st" style="left:645.10px;top:45.70px" width="126.2" height="11" viewBox="0 0 126.2 11"><polygon points="5.50,1.20 6.95,3.95 10.02,4.48 7.85,6.71 8.29,9.79 5.50,8.42 2.71,9.79 3.15,6.71 0.98,4.48 4.05,3.95" fill="#f2a51f" stroke="#f2a51f" stroke-width="1.1" stroke-linejoin="round"/><polygon points="18.30,1.20 19.75,3.95 22.82,4.48 20.65,6.71 21.09,9.79 18.30,8.42 15.51,9.79 15.95,6.71 13.78,4.48 16.85,3.95" fill="#f2a51f" stroke="#f2a51f" stroke-width="1.1" stroke-linejoin="round"/><polygon points="31.10,1.20 32.55,3.95 35.62,4.48 33.45,6.71 33.89,9.79 31.10,8.42 28.31,9.79 28.75,6.71 26.58,4.48 29.65,3.95" fill="#f2a51f" stroke="#f2a51f" stroke-width="1.1" stroke-linejoin="round"/><polygon points="43.90,1.20 45.35,3.95 48.42,4.48 46.25,6.71 46.69,9.79 43.90,8.42 41.11,9.79 41.55,6.71 39.38,4.48 42.45,3.95" fill="#f2a51f" stroke="#f2a51f" stroke-width="1.1" stroke-linejoin="round"/><polygon points="56.70,1.20 58.15,3.95 61.22,4.48 59.05,6.71 59.49,9.79 56.70,8.42 53.91,9.79 54.35,6.71 52.18,4.48 55.25,3.95" fill="#f2a51f" stroke="#f2a51f" stroke-width="1.1" stroke-linejoin="round"/><polygon points="69.50,1.20 70.95,3.95 74.02,4.48 71.85,6.71 72.29,9.79 69.50,8.42 66.71,9.79 67.15,6.71 64.98,4.48 68.05,3.95" fill="#f2a51f" stroke="#f2a51f" stroke-width="1.1" stroke-linejoin="round"/><polygon points="82.30,1.20 83.75,3.95 86.82,4.48 84.65,6.71 85.09,9.79 82.30,8.42 79.51,9.79 79.95,6.71 77.78,4.48 80.85,3.95" fill="#f2a51f" stroke="#f2a51f" stroke-width="1.1" stroke-linejoin="round"/><polygon points="95.10,1.20 96.55,3.95 99.62,4.48 97.45,6.71 97.89,9.79 95.10,8.42 92.31,9.79 92.75,6.71 90.58,4.48 93.65,3.95" fill="#f2a51f" stroke="#f2a51f" stroke-width="1.1" stroke-linejoin="round"/><polygon points="107.90,1.20 109.35,3.95 112.42,4.48 110.25,6.71 110.69,9.79 107.90,8.42 105.11,9.79 105.55,6.71 103.38,4.48 106.45,3.95" fill="#f2a51f" stroke="#f2a51f" stroke-width="1.1" stroke-linejoin="round"/><polygon points="120.70,1.20 122.15,3.95 125.22,4.48 123.05,6.71 123.49,9.79 120.70,8.42 117.91,9.79 118.35,6.71 116.18,4.48 119.25,3.95" fill="#f2a51f" stroke="#f2a51f" stroke-width="1.1" stroke-linejoin="round"/></svg><div class="lb" style="left:857.5px;top:20.6px">Perfect</div><svg class="st" style="left:851.75px;top:45.70px" width="126.2" height="11" viewBox="0 0 126.2 11"><polygon points="5.50,1.20 6.95,3.95 10.02,4.48 7.85,6.71 8.29,9.79 5.50,8.42 2.71,9.79 3.15,6.71 0.98,4.48 4.05,3.95" fill="#c81230" stroke="#c81230" stroke-width="1.1" stroke-linejoin="round"/><polygon points="18.30,1.20 19.75,3.95 22.82,4.48 20.65,6.71 21.09,9.79 18.30,8.42 15.51,9.79 15.95,6.71 13.78,4.48 16.85,3.95" fill="#c1112d" stroke="#c1112d" stroke-width="1.1" stroke-linejoin="round"/><polygon points="31.10,1.20 32.55,3.95 35.62,4.48 33.45,6.71 33.89,9.79 31.10,8.42 28.31,9.79 28.75,6.71 26.58,4.48 29.65,3.95" fill="#b9102a" stroke="#b9102a" stroke-width="1.1" stroke-linejoin="round"/><polygon points="43.90,1.20 45.35,3.95 48.42,4.48 46.25,6.71 46.69,9.79 43.90,8.42 41.11,9.79 41.55,6.71 39.38,4.48 42.45,3.95" fill="#b20f27" stroke="#b20f27" stroke-width="1.1" stroke-linejoin="round"/><polygon points="56.70,1.20 58.15,3.95 61.22,4.48 59.05,6.71 59.49,9.79 56.70,8.42 53.91,9.79 54.35,6.71 52.18,4.48 55.25,3.95" fill="#ab0e24" stroke="#ab0e24" stroke-width="1.1" stroke-linejoin="round"/><polygon points="69.50,1.20 70.95,3.95 74.02,4.48 71.85,6.71 72.29,9.79 69.50,8.42 66.71,9.79 67.15,6.71 64.98,4.48 68.05,3.95" fill="#a30e22" stroke="#a30e22" stroke-width="1.1" stroke-linejoin="round"/><polygon points="82.30,1.20 83.75,3.95 86.82,4.48 84.65,6.71 85.09,9.79 82.30,8.42 79.51,9.79 79.95,6.71 77.78,4.48 80.85,3.95" fill="#9c0d1f" stroke="#9c0d1f" stroke-width="1.1" stroke-linejoin="round"/><polygon points="95.10,1.20 96.55,3.95 99.62,4.48 97.45,6.71 97.89,9.79 95.10,8.42 92.31,9.79 92.75,6.71 90.58,4.48 93.65,3.95" fill="#950c1c" stroke="#950c1c" stroke-width="1.1" stroke-linejoin="round"/><polygon points="107.90,1.20 109.35,3.95 112.42,4.48 110.25,6.71 110.69,9.79 107.90,8.42 105.11,9.79 105.55,6.71 103.38,4.48 106.45,3.95" fill="#8d0b19" stroke="#8d0b19" stroke-width="1.1" stroke-linejoin="round"/><polygon points="120.70,1.20 122.15,3.95 125.22,4.48 123.05,6.71 123.49,9.79 120.70,8.42 117.91,9.79 118.35,6.71 116.18,4.48 119.25,3.95" fill="#860a16" stroke="#860a16" stroke-width="1.1" stroke-linejoin="round"/></svg></div>
<div class="row g" style="top:482.5px"><div class="nm" style="top:11px">Elaine Chao</div><div class="dt" style="top:23.7px">26.03.1953</div><div class="dv"></div><div class="nm" style="top:53.3px">Addison McConnell</div><div class="dt" style="top:66px">20.02.1942</div><div class="av" style="left:148.5px;top:8.5px;background:#2c1810"><svg width="26.5" height="26.5" viewBox="0 0 26.5 26.5"><g><rect x="-3" y="-3" width="33" height="33" fill="#2c1810"/><path d="M5.5 22V9C6 5 9 3 14 3C19 3 22.5 5 23 10V20C22 24 18 27 14.5 27C10 27 6.5 25 5.5 22Z" fill="#e4b292"/><path d="M0 0H26.5V6C22 1.5 14 1 9 3.5C7 5 6 8 5.5 12L4 6L0 7Z" fill="#4e3020"/><path d="M8 3C12 0.5 20 1 24 5C20 3 14 3 10 5Z" fill="#7a5a44" opacity="0.8"/><ellipse cx="9.6" cy="11.2" rx="2.6" ry="1.1" fill="#5e3628" opacity="0.9"/><ellipse cx="18.4" cy="11.2" rx="2.6" ry="1.1" fill="#5e3628" opacity="0.9"/><rect x="13.2" y="11.5" width="2" height="6.5" fill="#d09878" rx="1" opacity="0.55"/><ellipse cx="14" cy="21" rx="3.8" ry="1.7" fill="#54141a"/><rect x="11.4" y="22.4" width="5.2" height="1" fill="#c05858" rx="0.5" opacity="0.8"/><path d="M22.5 10L26.5 6V27H21L23 21Z" fill="#24140e"/></g></svg></div><div class="av" style="left:148.5px;top:50.7px;background:#3a3a3a"><svg width="26.5" height="26.5" viewBox="0 0 26.5 26.5"><g><rect x="-3" y="-3" width="33" height="33" fill="#3a3a3a"/><path d="M3 22V9C4 4.5 8 3 13 3C18 3 21.5 5 22 10V21C20.5 25 17 27 13 27C8.5 27 4.5 25.5 3 22Z" fill="#8c8c8c"/><rect x="5.5" y="4.2" width="14.5" height="4.6" fill="#a6a6a6" rx="2"/><path d="M22.5 12L26.5 9V27H20Z" fill="#e6e6e6"/><path d="M23.5 0H26.5V3.5Z" fill="#f2f2f2"/><rect x="4.5" y="11.6" width="7.2" height="3.4" fill="#5c5c5c" rx="1.2" opacity="0.8"/><rect x="14" y="11.6" width="7.2" height="3.4" fill="#5c5c5c" rx="1.2" opacity="0.8"/><rect x="12.3" y="12" width="1.9" height="6.5" fill="#b4b4b4" rx="0.9" opacity="0.8"/><path d="M7.5 19.5C10 22.5 16 22.5 19 19.5C17 21 10 21 7.5 19.5Z" fill="#dedede"/><path d="M3 13C1.5 14 1.5 17 3.5 18Z" fill="#b0b0b0"/></g></svg></div><svg class="ic" style="left:213.00px;top:9.40px" width="18" height="25" viewBox="0 0 18 25"><g fill="none" stroke="#eda31e" stroke-width="3.1" stroke-linecap="round"><circle cx="9" cy="8" r="5.4" stroke-width="3.35"/><path d="M9 13.7V22.6M5.6 19.3H12.4"/></g></svg><svg class="ic" style="left:210.80px;top:52.40px" width="22" height="22" viewBox="0 0 22 22"><g fill="none" stroke="#eda31e" stroke-width="3.1"><circle cx="8" cy="14" r="5.35" stroke-width="3.45"/><path d="M12 10L19 3"/><path d="M13.6 2.6H19.4V8.4" stroke-linecap="round" stroke-linejoin="round"/></g></svg><div class="lb" style="left:335.8px;top:10.5px">Very high</div><svg class="st" style="left:331.50px;top:35.10px" width="126.2" height="11" viewBox="0 0 126.2 11"><polygon points="5.50,1.20 6.95,3.95 10.02,4.48 7.85,6.71 8.29,9.79 5.50,8.42 2.71,9.79 3.15,6.71 0.98,4.48 4.05,3.95" fill="#f2a51f" stroke="#f2a51f" stroke-width="1.1" stroke-linejoin="round"/><polygon points="18.30,1.20 19.75,3.95 22.82,4.48 20.65,6.71 21.09,9.79 18.30,8.42 15.51,9.79 15.95,6.71 13.78,4.48 16.85,3.95" fill="#f2a51f" stroke="#f2a51f" stroke-width="1.1" stroke-linejoin="round"/><polygon points="31.10,1.20 32.55,3.95 35.62,4.48 33.45,6.71 33.89,9.79 31.10,8.42 28.31,9.79 28.75,6.71 26.58,4.48 29.65,3.95" fill="#f2a51f" stroke="#f2a51f" stroke-width="1.1" stroke-linejoin="round"/><polygon points="43.90,1.20 45.35,3.95 48.42,4.48 46.25,6.71 46.69,9.79 43.90,8.42 41.11,9.79 41.55,6.71 39.38,4.48 42.45,3.95" fill="#f2a51f" stroke="#f2a51f" stroke-width="1.1" stroke-linejoin="round"/><polygon points="56.70,1.20 58.15,3.95 61.22,4.48 59.05,6.71 59.49,9.79 56.70,8.42 53.91,9.79 54.35,6.71 52.18,4.48 55.25,3.95" fill="#f2a51f" stroke="#f2a51f" stroke-width="1.1" stroke-linejoin="round"/><polygon points="69.50,1.20 70.95,3.95 74.02,4.48 71.85,6.71 72.29,9.79 69.50,8.42 66.71,9.79 67.15,6.71 64.98,4.48 68.05,3.95" fill="#f2a51f" stroke="#f2a51f" stroke-width="1.1" stroke-linejoin="round"/><polygon points="82.30,1.20 83.75,3.95 86.82,4.48 84.65,6.71 85.09,9.79 82.30,8.42 79.51,9.79 79.95,6.71 77.78,4.48 80.85,3.95" fill="#f2a51f" stroke="#f2a51f" stroke-width="1.1" stroke-linejoin="round"/><polygon points="95.10,1.20 96.55,3.95 99.62,4.48 97.45,6.71 97.89,9.79 95.10,8.42 92.31,9.79 92.75,6.71 90.58,4.48 93.65,3.95" fill="#f2a51f" stroke="#f2a51f" stroke-width="1.1" stroke-linejoin="round"/><polygon points="107.90,1.20 109.35,3.95 112.42,4.48 110.25,6.71 110.69,9.79 107.90,8.42 105.11,9.79 105.55,6.71 103.38,4.48 106.45,3.95" fill="#dedede" stroke="#dedede" stroke-width="1.1" stroke-linejoin="round"/><polygon points="120.70,1.20 122.15,3.95 125.22,4.48 123.05,6.71 123.49,9.79 120.70,8.42 117.91,9.79 118.35,6.71 116.18,4.48 119.25,3.95" fill="#dedede" stroke="#dedede" stroke-width="1.1" stroke-linejoin="round"/></svg><div class="pc c1">80%</div><div class="pc c2">65%</div><div class="pc c3">85%</div><div class="lb" style="left:515px;top:21px">High</div><svg class="st" style="left:556.67px;top:44.50px" width="31.2" height="14" viewBox="0 0 31.2 14"><g stroke="#f2a51f" stroke-width="2.3"><path d="M0.00 7H14.00M7.00 0V14"/><path d="M17.25 7H31.25M24.25 0V14"/></g></svg><div class="lb" style="left:648.6px;top:20.6px">Perfect</div><svg class="st" style="left:645.10px;top:45.70px" width="126.2" height="11" viewBox="0 0 126.2 11"><polygon points="5.50,1.20 6.95,3.95 10.02,4.48 7.85,6.71 8.29,9.79 5.50,8.42 2.71,9.79 3.15,6.71 0.98,4.48 4.05,3.95" fill="#f2a51f" stroke="#f2a51f" stroke-width="1.1" stroke-linejoin="round"/><polygon points="18.30,1.20 19.75,3.95 22.82,4.48 20.65,6.71 21.09,9.79 18.30,8.42 15.51,9.79 15.95,6.71 13.78,4.48 16.85,3.95" fill="#f2a51f" stroke="#f2a51f" stroke-width="1.1" stroke-linejoin="round"/><polygon points="31.10,1.20 32.55,3.95 35.62,4.48 33.45,6.71 33.89,9.79 31.10,8.42 28.31,9.79 28.75,6.71 26.58,4.48 29.65,3.95" fill="#f2a51f" stroke="#f2a51f" stroke-width="1.1" stroke-linejoin="round"/><polygon points="43.90,1.20 45.35,3.95 48.42,4.48 46.25,6.71 46.69,9.79 43.90,8.42 41.11,9.79 41.55,6.71 39.38,4.48 42.45,3.95" fill="#f2a51f" stroke="#f2a51f" stroke-width="1.1" stroke-linejoin="round"/><polygon points="56.70,1.20 58.15,3.95 61.22,4.48 59.05,6.71 59.49,9.79 56.70,8.42 53.91,9.79 54.35,6.71 52.18,4.48 55.25,3.95" fill="#f2a51f" stroke="#f2a51f" stroke-width="1.1" stroke-linejoin="round"/><polygon points="69.50,1.20 70.95,3.95 74.02,4.48 71.85,6.71 72.29,9.79 69.50,8.42 66.71,9.79 67.15,6.71 64.98,4.48 68.05,3.95" fill="#f2a51f" stroke="#f2a51f" stroke-width="1.1" stroke-linejoin="round"/><polygon points="82.30,1.20 83.75,3.95 86.82,4.48 84.65,6.71 85.09,9.79 82.30,8.42 79.51,9.79 79.95,6.71 77.78,4.48 80.85,3.95" fill="#f2a51f" stroke="#f2a51f" stroke-width="1.1" stroke-linejoin="round"/><polygon points="95.10,1.20 96.55,3.95 99.62,4.48 97.45,6.71 97.89,9.79 95.10,8.42 92.31,9.79 92.75,6.71 90.58,4.48 93.65,3.95" fill="#f2a51f" stroke="#f2a51f" stroke-width="1.1" stroke-linejoin="round"/><polygon points="107.90,1.20 109.35,3.95 112.42,4.48 110.25,6.71 110.69,9.79 107.90,8.42 105.11,9.79 105.55,6.71 103.38,4.48 106.45,3.95" fill="#f2a51f" stroke="#f2a51f" stroke-width="1.1" stroke-linejoin="round"/><polygon points="120.70,1.20 122.15,3.95 125.22,4.48 123.05,6.71 123.49,9.79 120.70,8.42 117.91,9.79 118.35,6.71 116.18,4.48 119.25,3.95" fill="#f2a51f" stroke="#f2a51f" stroke-width="1.1" stroke-linejoin="round"/></svg><div class="lb" style="left:857.5px;top:20.6px">Perfect</div><svg class="st" style="left:851.75px;top:45.70px" width="126.2" height="11" viewBox="0 0 126.2 11"><polygon points="5.50,1.20 6.95,3.95 10.02,4.48 7.85,6.71 8.29,9.79 5.50,8.42 2.71,9.79 3.15,6.71 0.98,4.48 4.05,3.95" fill="#c81230" stroke="#c81230" stroke-width="1.1" stroke-linejoin="round"/><polygon points="18.30,1.20 19.75,3.95 22.82,4.48 20.65,6.71 21.09,9.79 18.30,8.42 15.51,9.79 15.95,6.71 13.78,4.48 16.85,3.95" fill="#c1112d" stroke="#c1112d" stroke-width="1.1" stroke-linejoin="round"/><polygon points="31.10,1.20 32.55,3.95 35.62,4.48 33.45,6.71 33.89,9.79 31.10,8.42 28.31,9.79 28.75,6.71 26.58,4.48 29.65,3.95" fill="#b9102a" stroke="#b9102a" stroke-width="1.1" stroke-linejoin="round"/><polygon points="43.90,1.20 45.35,3.95 48.42,4.48 46.25,6.71 46.69,9.79 43.90,8.42 41.11,9.79 41.55,6.71 39.38,4.48 42.45,3.95" fill="#b20f27" stroke="#b20f27" stroke-width="1.1" stroke-linejoin="round"/><polygon points="56.70,1.20 58.15,3.95 61.22,4.48 59.05,6.71 59.49,9.79 56.70,8.42 53.91,9.79 54.35,6.71 52.18,4.48 55.25,3.95" fill="#ab0e24" stroke="#ab0e24" stroke-width="1.1" stroke-linejoin="round"/><polygon points="69.50,1.20 70.95,3.95 74.02,4.48 71.85,6.71 72.29,9.79 69.50,8.42 66.71,9.79 67.15,6.71 64.98,4.48 68.05,3.95" fill="#a30e22" stroke="#a30e22" stroke-width="1.1" stroke-linejoin="round"/><polygon points="82.30,1.20 83.75,3.95 86.82,4.48 84.65,6.71 85.09,9.79 82.30,8.42 79.51,9.79 79.95,6.71 77.78,4.48 80.85,3.95" fill="#9c0d1f" stroke="#9c0d1f" stroke-width="1.1" stroke-linejoin="round"/><polygon points="95.10,1.20 96.55,3.95 99.62,4.48 97.45,6.71 97.89,9.79 95.10,8.42 92.31,9.79 92.75,6.71 90.58,4.48 93.65,3.95" fill="#950c1c" stroke="#950c1c" stroke-width="1.1" stroke-linejoin="round"/><polygon points="107.90,1.20 109.35,3.95 112.42,4.48 110.25,6.71 110.69,9.79 107.90,8.42 105.11,9.79 105.55,6.71 103.38,4.48 106.45,3.95" fill="#8d0b19" stroke="#8d0b19" stroke-width="1.1" stroke-linejoin="round"/><polygon points="120.70,1.20 122.15,3.95 125.22,4.48 123.05,6.71 123.49,9.79 120.70,8.42 117.91,9.79 118.35,6.71 116.18,4.48 119.25,3.95" fill="#860a16" stroke="#860a16" stroke-width="1.1" stroke-linejoin="round"/></svg></div>
<div class="row" style="top:566.5px"><div class="nm" style="top:11px">Natalja Wodianowa</div><div class="dt" style="top:23.7px">28.02.1982</div><div class="dv"></div><div class="nm" style="top:53.3px">Antoine Arnault</div><div class="dt" style="top:66px">04.06.1977</div><div class="av" style="left:148.5px;top:8.5px;background:#9c7854"><svg width="26.5" height="26.5" viewBox="0 0 26.5 26.5"><g><rect x="-3" y="-3" width="33" height="33" fill="#9c7854"/><path d="M5 22V11C6 6 9 4 13.5 4C18 4 21.5 6 22 11V21C21 25 17 27 13.5 27C10 27 6 25.5 5 22Z" fill="#cf9876"/><path d="M0 0H26.5V4C22 1 16 2.5 13 4C10 2 4 3 0 7Z" fill="#9c7854"/><path d="M13 4C9 5 6.5 8 6 14L4.5 20L4 8C6 4 10 3 13 4Z" fill="#ae8a62"/><path d="M22 10L26.5 6V27H22Z" fill="#86684e"/><path d="M0 4L3 2L2 0H0Z" fill="#2a1c14"/><ellipse cx="9.2" cy="11" rx="2.6" ry="1.2" fill="#6a4836" opacity="0.85"/><ellipse cx="17.8" cy="11" rx="2.6" ry="1.2" fill="#6a4836" opacity="0.85"/><rect x="12.7" y="11.5" width="1.8" height="6.5" fill="#b88464" rx="0.9" opacity="0.5"/><ellipse cx="13.5" cy="20.6" rx="3.4" ry="1.5" fill="#9c5646" opacity="0.9"/></g></svg></div><div class="av" style="left:148.5px;top:50.7px;background:#1c1c1c"><svg width="26.5" height="26.5" viewBox="0 0 26.5 26.5"><g><rect x="-3" y="-3" width="33" height="33" fill="#1c1c1c"/><path d="M4.5 20V11C5 7.5 8 6 12 6.5C16.5 7 20 9 20.5 13V20C19 24 15.5 25.5 12 25C8.5 24.5 5.5 23 4.5 20Z" fill="#bcbcbc"/><ellipse cx="8.2" cy="11.5" rx="3" ry="4.2" fill="#ececec" opacity="0.85"/><path d="M0 0H26.5V15L20.5 14C20 10.5 16 9 12 10C10 8.5 8 7.5 6 8.5L4.5 13L0 15Z" fill="#181818"/><path d="M7 8.5C11 5.5 18 6 21 11.5C17 9 12 9 8.5 11Z" fill="#242424"/><ellipse cx="9.0" cy="13.4" rx="2.3" ry="1.1" fill="#2c2c2c" opacity="0.9"/><ellipse cx="16.2" cy="13.4" rx="2.3" ry="1.1" fill="#2c2c2c" opacity="0.9"/><path d="M12 14L14.6 19.3L11.5 19.5Z" fill="#e6e6e6" opacity="0.9"/><rect x="9.5" y="21.2" width="6" height="1.2" fill="#555" rx="0.6"/><path d="M0 27V22L5 21L9 27Z" fill="#7c7c7c"/><path d="M9 27L10 24.8L16 25.2L18 27Z" fill="#9a9a9a"/></g></svg></div><svg class="ic" style="left:213.00px;top:9.40px" width="18" height="25" viewBox="0 0 18 25"><g fill="none" stroke="#eda31e" stroke-width="3.1" stroke-linecap="round"><circle cx="9" cy="8" r="5.4" stroke-width="3.35"/><path d="M9 13.7V22.6M5.6 19.3H12.4"/></g></svg><svg class="ic" style="left:210.80px;top:52.40px" width="22" height="22" viewBox="0 0 22 22"><g fill="none" stroke="#eda31e" stroke-width="3.1"><circle cx="8" cy="14" r="5.35" stroke-width="3.45"/><path d="M12 10L19 3"/><path d="M13.6 2.6H19.4V8.4" stroke-linecap="round" stroke-linejoin="round"/></g></svg><div class="lb" style="left:335.8px;top:10.5px">Very high</div><svg class="st" style="left:331.50px;top:35.10px" width="126.2" height="11" viewBox="0 0 126.2 11"><polygon points="5.50,1.20 6.95,3.95 10.02,4.48 7.85,6.71 8.29,9.79 5.50,8.42 2.71,9.79 3.15,6.71 0.98,4.48 4.05,3.95" fill="#f2a51f" stroke="#f2a51f" stroke-width="1.1" stroke-linejoin="round"/><polygon points="18.30,1.20 19.75,3.95 22.82,4.48 20.65,6.71 21.09,9.79 18.30,8.42 15.51,9.79 15.95,6.71 13.78,4.48 16.85,3.95" fill="#f2a51f" stroke="#f2a51f" stroke-width="1.1" stroke-linejoin="round"/><polygon points="31.10,1.20 32.55,3.95 35.62,4.48 33.45,6.71 33.89,9.79 31.10,8.42 28.31,9.79 28.75,6.71 26.58,4.48 29.65,3.95" fill="#f2a51f" stroke="#f2a51f" stroke-width="1.1" stroke-linejoin="round"/><polygon points="43.90,1.20 45.35,3.95 48.42,4.48 46.25,6.71 46.69,9.79 43.90,8.42 41.11,9.79 41.55,6.71 39.38,4.48 42.45,3.95" fill="#f2a51f" stroke="#f2a51f" stroke-width="1.1" stroke-linejoin="round"/><polygon points="56.70,1.20 58.15,3.95 61.22,4.48 59.05,6.71 59.49,9.79 56.70,8.42 53.91,9.79 54.35,6.71 52.18,4.48 55.25,3.95" fill="#f2a51f" stroke="#f2a51f" stroke-width="1.1" stroke-linejoin="round"/><polygon points="69.50,1.20 70.95,3.95 74.02,4.48 71.85,6.71 72.29,9.79 69.50,8.42 66.71,9.79 67.15,6.71 64.98,4.48 68.05,3.95" fill="#f2a51f" stroke="#f2a51f" stroke-width="1.1" stroke-linejoin="round"/><polygon points="82.30,1.20 83.75,3.95 86.82,4.48 84.65,6.71 85.09,9.79 82.30,8.42 79.51,9.79 79.95,6.71 77.78,4.48 80.85,3.95" fill="#f2a51f" stroke="#f2a51f" stroke-width="1.1" stroke-linejoin="round"/><polygon points="95.10,1.20 96.55,3.95 99.62,4.48 97.45,6.71 97.89,9.79 95.10,8.42 92.31,9.79 92.75,6.71 90.58,4.48 93.65,3.95" fill="#f2a51f" stroke="#f2a51f" stroke-width="1.1" stroke-linejoin="round"/><polygon points="107.90,1.20 109.35,3.95 112.42,4.48 110.25,6.71 110.69,9.79 107.90,8.42 105.11,9.79 105.55,6.71 103.38,4.48 106.45,3.95" fill="#dedede" stroke="#dedede" stroke-width="1.1" stroke-linejoin="round"/><polygon points="120.70,1.20 122.15,3.95 125.22,4.48 123.05,6.71 123.49,9.79 120.70,8.42 117.91,9.79 118.35,6.71 116.18,4.48 119.25,3.95" fill="#dedede" stroke="#dedede" stroke-width="1.1" stroke-linejoin="round"/></svg><div class="pc c1">80%</div><div class="pc c2">40%</div><div class="pc c3">50%</div><div class="lb" style="left:515px;top:21px">Perfect</div><svg class="st" style="left:548.05px;top:44.50px" width="48.5" height="14" viewBox="0 0 48.5 14"><g stroke="#f2a51f" stroke-width="2.3"><path d="M0.00 7H14.00M7.00 0V14"/><path d="M17.25 7H31.25M24.25 0V14"/><path d="M34.50 7H48.50M41.50 0V14"/></g></svg><div class="lb" style="left:648.6px;top:20.6px">Very high</div><svg class="st" style="left:645.10px;top:45.70px" width="126.2" height="11" viewBox="0 0 126.2 11"><polygon points="5.50,1.20 6.95,3.95 10.02,4.48 7.85,6.71 8.29,9.79 5.50,8.42 2.71,9.79 3.15,6.71 0.98,4.48 4.05,3.95" fill="#f2a51f" stroke="#f2a51f" stroke-width="1.1" stroke-linejoin="round"/><polygon points="18.30,1.20 19.75,3.95 22.82,4.48 20.65,6.71 21.09,9.79 18.30,8.42 15.51,9.79 15.95,6.71 13.78,4.48 16.85,3.95" fill="#f2a51f" stroke="#f2a51f" stroke-width="1.1" stroke-linejoin="round"/><polygon points="31.10,1.20 32.55,3.95 35.62,4.48 33.45,6.71 33.89,9.79 31.10,8.42 28.31,9.79 28.75,6.71 26.58,4.48 29.65,3.95" fill="#f2a51f" stroke="#f2a51f" stroke-width="1.1" stroke-linejoin="round"/><polygon points="43.90,1.20 45.35,3.95 48.42,4.48 46.25,6.71 46.69,9.79 43.90,8.42 41.11,9.79 41.55,6.71 39.38,4.48 42.45,3.95" fill="#f2a51f" stroke="#f2a51f" stroke-width="1.1" stroke-linejoin="round"/><polygon points="56.70,1.20 58.15,3.95 61.22,4.48 59.05,6.71 59.49,9.79 56.70,8.42 53.91,9.79 54.35,6.71 52.18,4.48 55.25,3.95" fill="#f2a51f" stroke="#f2a51f" stroke-width="1.1" stroke-linejoin="round"/><polygon points="69.50,1.20 70.95,3.95 74.02,4.48 71.85,6.71 72.29,9.79 69.50,8.42 66.71,9.79 67.15,6.71 64.98,4.48 68.05,3.95" fill="#f2a51f" stroke="#f2a51f" stroke-width="1.1" stroke-linejoin="round"/><polygon points="82.30,1.20 83.75,3.95 86.82,4.48 84.65,6.71 85.09,9.79 82.30,8.42 79.51,9.79 79.95,6.71 77.78,4.48 80.85,3.95" fill="#f2a51f" stroke="#f2a51f" stroke-width="1.1" stroke-linejoin="round"/><polygon points="95.10,1.20 96.55,3.95 99.62,4.48 97.45,6.71 97.89,9.79 95.10,8.42 92.31,9.79 92.75,6.71 90.58,4.48 93.65,3.95" fill="#f2a51f" stroke="#f2a51f" stroke-width="1.1" stroke-linejoin="round"/><polygon points="107.90,1.20 109.35,3.95 112.42,4.48 110.25,6.71 110.69,9.79 107.90,8.42 105.11,9.79 105.55,6.71 103.38,4.48 106.45,3.95" fill="#f2a51f" stroke="#f2a51f" stroke-width="1.1" stroke-linejoin="round"/><polygon points="120.70,1.20 122.15,3.95 125.22,4.48 123.05,6.71 123.49,9.79 120.70,8.42 117.91,9.79 118.35,6.71 116.18,4.48 119.25,3.95" fill="#dedede" stroke="#dedede" stroke-width="1.1" stroke-linejoin="round"/></svg><div class="lb" style="left:857.5px;top:20.6px">Perfect</div><svg class="st" style="left:851.75px;top:45.70px" width="126.2" height="11" viewBox="0 0 126.2 11"><polygon points="5.50,1.20 6.95,3.95 10.02,4.48 7.85,6.71 8.29,9.79 5.50,8.42 2.71,9.79 3.15,6.71 0.98,4.48 4.05,3.95" fill="#c81230" stroke="#c81230" stroke-width="1.1" stroke-linejoin="round"/><polygon points="18.30,1.20 19.75,3.95 22.82,4.48 20.65,6.71 21.09,9.79 18.30,8.42 15.51,9.79 15.95,6.71 13.78,4.48 16.85,3.95" fill="#c1112d" stroke="#c1112d" stroke-width="1.1" stroke-linejoin="round"/><polygon points="31.10,1.20 32.55,3.95 35.62,4.48 33.45,6.71 33.89,9.79 31.10,8.42 28.31,9.79 28.75,6.71 26.58,4.48 29.65,3.95" fill="#b9102a" stroke="#b9102a" stroke-width="1.1" stroke-linejoin="round"/><polygon points="43.90,1.20 45.35,3.95 48.42,4.48 46.25,6.71 46.69,9.79 43.90,8.42 41.11,9.79 41.55,6.71 39.38,4.48 42.45,3.95" fill="#b20f27" stroke="#b20f27" stroke-width="1.1" stroke-linejoin="round"/><polygon points="56.70,1.20 58.15,3.95 61.22,4.48 59.05,6.71 59.49,9.79 56.70,8.42 53.91,9.79 54.35,6.71 52.18,4.48 55.25,3.95" fill="#ab0e24" stroke="#ab0e24" stroke-width="1.1" stroke-linejoin="round"/><polygon points="69.50,1.20 70.95,3.95 74.02,4.48 71.85,6.71 72.29,9.79 69.50,8.42 66.71,9.79 67.15,6.71 64.98,4.48 68.05,3.95" fill="#a30e22" stroke="#a30e22" stroke-width="1.1" stroke-linejoin="round"/><polygon points="82.30,1.20 83.75,3.95 86.82,4.48 84.65,6.71 85.09,9.79 82.30,8.42 79.51,9.79 79.95,6.71 77.78,4.48 80.85,3.95" fill="#9c0d1f" stroke="#9c0d1f" stroke-width="1.1" stroke-linejoin="round"/><polygon points="95.10,1.20 96.55,3.95 99.62,4.48 97.45,6.71 97.89,9.79 95.10,8.42 92.31,9.79 92.75,6.71 90.58,4.48 93.65,3.95" fill="#950c1c" stroke="#950c1c" stroke-width="1.1" stroke-linejoin="round"/><polygon points="107.90,1.20 109.35,3.95 112.42,4.48 110.25,6.71 110.69,9.79 107.90,8.42 105.11,9.79 105.55,6.71 103.38,4.48 106.45,3.95" fill="#8d0b19" stroke="#8d0b19" stroke-width="1.1" stroke-linejoin="round"/><polygon points="120.70,1.20 122.15,3.95 125.22,4.48 123.05,6.71 123.49,9.79 120.70,8.42 117.91,9.79 118.35,6.71 116.18,4.48 119.25,3.95" fill="#860a16" stroke="#860a16" stroke-width="1.1" stroke-linejoin="round"/></svg></div>
<div class="row g" style="top:650.5px"><div class="nm" style="top:11px">Ashton Kutcher</div><div class="dt" style="top:23.7px">07.02.1978</div><div class="dv"></div><div class="nm" style="top:53.3px">Mila Kunis</div><div class="dt" style="top:66px">14.03.1983</div><div class="av" style="left:148.5px;top:8.5px;background:#481f15"><svg width="26.5" height="26.5" viewBox="0 0 26.5 26.5"><g><rect x="-3" y="-3" width="33" height="33" fill="#481f15"/><path d="M0 17L4 19L7 27H0Z" fill="#e2e0e0"/><path d="M26.5 19L23.5 21L22 27H26.5Z" fill="#e2e0e0"/><path d="M4 21V12C5 8 9 7 13.5 7C18 7 22 8 23 12V21C21.5 25 17.5 27 13.5 27C9.5 27 5.5 25 4 21Z" fill="#d29a7a"/><path d="M0 0H26.5V18L23.5 17L23 12C22 10 19 10.5 16.5 9C15 11 12 11.5 9.5 11C7 11 5 12 4.5 14L4 18L0 18Z" fill="#481f15"/><path d="M10 2C13 1 17 2 19 4C16 3.5 13 4 11 6Z" fill="#6c3422" opacity="0.8"/><path d="M14 6L11.5 10.5L16 8.5Z" fill="#e0c0a4" opacity="0.8"/><ellipse cx="9.2" cy="13.7" rx="2.4" ry="1" fill="#5a3428" opacity="0.85"/><ellipse cx="17.8" cy="13.7" rx="2.4" ry="1" fill="#5a3428" opacity="0.85"/><rect x="12.7" y="14" width="1.9" height="5.5" fill="#a8784c" rx="0.9" opacity="0.6"/><rect x="10.3" y="21" width="6.5" height="1.4" fill="#bc6a58" rx="0.7"/><path d="M5 22C8 28 19 28 22 22V27H5Z" fill="#8e664c" opacity="0.55"/></g></svg></div><div class="av" style="left:148.5px;top:50.7px;background:#221a1c"><svg width="26.5" height="26.5" viewBox="0 0 26.5 26.5"><g><rect x="-3" y="-3" width="33" height="33" fill="#221a1c"/><rect x="0" y="0" width="1.6" height="27" fill="#aab2c0"/><path d="M5 22V11C6 6.5 9 5 13.5 5C18 5 21 7 21.5 12V21C20 25 17 27 13.5 27C10 27 6.5 25.5 5 22Z" fill="#c29a86"/><path d="M1.6 0H26.5V20L21.5 21V12C20 8.5 17 7.5 13.5 9C11 7 7 9 6 14L5 20L1.6 19Z" fill="#221a1c"/><path d="M0 20L5 20L7 27H0Z" fill="#7c8494"/><path d="M21.5 20L26.5 19.5V27H20Z" fill="#6c6444"/><ellipse cx="9.3" cy="12.6" rx="2.6" ry="1.3" fill="#36262a" opacity="0.9"/><ellipse cx="17.5" cy="12.6" rx="2.6" ry="1.3" fill="#36262a" opacity="0.9"/><rect x="12.6" y="13" width="1.8" height="6" fill="#d4ac94" rx="0.9" opacity="0.6"/><rect x="10.5" y="21" width="6" height="1.3" fill="#96605a" rx="0.65"/></g></svg></div><svg class="ic" style="left:210.80px;top:10.40px" width="22" height="22" viewBox="0 0 22 22"><g fill="none" stroke="#eda31e" stroke-width="3.1"><circle cx="8" cy="14" r="5.35" stroke-width="3.45"/><path d="M12 10L19 3"/><path d="M13.6 2.6H19.4V8.4" stroke-linecap="round" stroke-linejoin="round"/></g></svg><svg class="ic" style="left:213.00px;top:51.40px" width="18" height="25" viewBox="0 0 18 25"><g fill="none" stroke="#eda31e" stroke-width="3.1" stroke-linecap="round"><circle cx="9" cy="8" r="5.4" stroke-width="3.35"/><path d="M9 13.7V22.6M5.6 19.3H12.4"/></g></svg><div class="lb" style="left:335.8px;top:10.5px">High</div><svg class="st" style="left:331.50px;top:35.10px" width="126.2" height="11" viewBox="0 0 126.2 11"><polygon points="5.50,1.20 6.95,3.95 10.02,4.48 7.85,6.71 8.29,9.79 5.50,8.42 2.71,9.79 3.15,6.71 0.98,4.48 4.05,3.95" fill="#f2a51f" stroke="#f2a51f" stroke-width="1.1" stroke-linejoin="round"/><polygon points="18.30,1.20 19.75,3.95 22.82,4.48 20.65,6.71 21.09,9.79 18.30,8.42 15.51,9.79 15.95,6.71 13.78,4.48 16.85,3.95" fill="#f2a51f" stroke="#f2a51f" stroke-width="1.1" stroke-linejoin="round"/><polygon points="31.10,1.20 32.55,3.95 35.62,4.48 33.45,6.71 33.89,9.79 31.10,8.42 28.31,9.79 28.75,6.71 26.58,4.48 29.65,3.95" fill="#f2a51f" stroke="#f2a51f" stroke-width="1.1" stroke-linejoin="round"/><polygon points="43.90,1.20 45.35,3.95 48.42,4.48 46.25,6.71 46.69,9.79 43.90,8.42 41.11,9.79 41.55,6.71 39.38,4.48 42.45,3.95" fill="#f2a51f" stroke="#f2a51f" stroke-width="1.1" stroke-linejoin="round"/><polygon points="56.70,1.20 58.15,3.95 61.22,4.48 59.05,6.71 59.49,9.79 56.70,8.42 53.91,9.79 54.35,6.71 52.18,4.48 55.25,3.95" fill="#f2a51f" stroke="#f2a51f" stroke-width="1.1" stroke-linejoin="round"/><polygon points="69.50,1.20 70.95,3.95 74.02,4.48 71.85,6.71 72.29,9.79 69.50,8.42 66.71,9.79 67.15,6.71 64.98,4.48 68.05,3.95" fill="#f2a51f" stroke="#f2a51f" stroke-width="1.1" stroke-linejoin="round"/><polygon points="82.30,1.20 83.75,3.95 86.82,4.48 84.65,6.71 85.09,9.79 82.30,8.42 79.51,9.79 79.95,6.71 77.78,4.48 80.85,3.95" fill="#f2a51f" stroke="#f2a51f" stroke-width="1.1" stroke-linejoin="round"/><polygon points="95.10,1.20 96.55,3.95 99.62,4.48 97.45,6.71 97.89,9.79 95.10,8.42 92.31,9.79 92.75,6.71 90.58,4.48 93.65,3.95" fill="#f0f0f6" stroke="#f0f0f6" stroke-width="1.1" stroke-linejoin="round"/><polygon points="95.10,1.20 95.60,2.15 95.60,8.67 95.10,8.42 92.31,9.79 92.75,6.71 90.58,4.48 93.65,3.95" fill="#f2a51f" stroke="#f2a51f" stroke-width="1.1" stroke-linejoin="round"/><polygon points="107.90,1.20 109.35,3.95 112.42,4.48 110.25,6.71 110.69,9.79 107.90,8.42 105.11,9.79 105.55,6.71 103.38,4.48 106.45,3.95" fill="#dedede" stroke="#dedede" stroke-width="1.1" stroke-linejoin="round"/><polygon points="120.70,1.20 122.15,3.95 125.22,4.48 123.05,6.71 123.49,9.79 120.70,8.42 117.91,9.79 118.35,6.71 116.18,4.48 119.25,3.95" fill="#dedede" stroke="#dedede" stroke-width="1.1" stroke-linejoin="round"/></svg><div class="pc c1">75%</div><div class="pc c2">65%</div><div class="pc c3">85%</div><div class="lb" style="left:515px;top:21px">Perfect</div><svg class="st" style="left:548.05px;top:44.50px" width="48.5" height="14" viewBox="0 0 48.5 14"><g stroke="#f2a51f" stroke-width="2.3"><path d="M0.00 7H14.00M7.00 0V14"/><path d="M17.25 7H31.25M24.25 0V14"/><path d="M34.50 7H48.50M41.50 0V14"/></g></svg><div class="lb" style="left:648.6px;top:20.6px">Perfect</div><svg class="st" style="left:645.10px;top:45.70px" width="126.2" height="11" viewBox="0 0 126.2 11"><polygon points="5.50,1.20 6.95,3.95 10.02,4.48 7.85,6.71 8.29,9.79 5.50,8.42 2.71,9.79 3.15,6.71 0.98,4.48 4.05,3.95" fill="#f2a51f" stroke="#f2a51f" stroke-width="1.1" stroke-linejoin="round"/><polygon points="18.30,1.20 19.75,3.95 22.82,4.48 20.65,6.71 21.09,9.79 18.30,8.42 15.51,9.79 15.95,6.71 13.78,4.48 16.85,3.95" fill="#f2a51f" stroke="#f2a51f" stroke-width="1.1" stroke-linejoin="round"/><polygon points="31.10,1.20 32.55,3.95 35.62,4.48 33.45,6.71 33.89,9.79 31.10,8.42 28.31,9.79 28.75,6.71 26.58,4.48 29.65,3.95" fill="#f2a51f" stroke="#f2a51f" stroke-width="1.1" stroke-linejoin="round"/><polygon points="43.90,1.20 45.35,3.95 48.42,4.48 46.25,6.71 46.69,9.79 43.90,8.42 41.11,9.79 41.55,6.71 39.38,4.48 42.45,3.95" fill="#f2a51f" stroke="#f2a51f" stroke-width="1.1" stroke-linejoin="round"/><polygon points="56.70,1.20 58.15,3.95 61.22,4.48 59.05,6.71 59.49,9.79 56.70,8.42 53.91,9.79 54.35,6.71 52.18,4.48 55.25,3.95" fill="#f2a51f" stroke="#f2a51f" stroke-width="1.1" stroke-linejoin="round"/><polygon points="69.50,1.20 70.95,3.95 74.02,4.48 71.85,6.71 72.29,9.79 69.50,8.42 66.71,9.79 67.15,6.71 64.98,4.48 68.05,3.95" fill="#f2a51f" stroke="#f2a51f" stroke-width="1.1" stroke-linejoin="round"/><polygon points="82.30,1.20 83.75,3.95 86.82,4.48 84.65,6.71 85.09,9.79 82.30,8.42 79.51,9.79 79.95,6.71 77.78,4.48 80.85,3.95" fill="#f2a51f" stroke="#f2a51f" stroke-width="1.1" stroke-linejoin="round"/><polygon points="95.10,1.20 96.55,3.95 99.62,4.48 97.45,6.71 97.89,9.79 95.10,8.42 92.31,9.79 92.75,6.71 90.58,4.48 93.65,3.95" fill="#f2a51f" stroke="#f2a51f" stroke-width="1.1" stroke-linejoin="round"/><polygon points="107.90,1.20 109.35,3.95 112.42,4.48 110.25,6.71 110.69,9.79 107.90,8.42 105.11,9.79 105.55,6.71 103.38,4.48 106.45,3.95" fill="#f2a51f" stroke="#f2a51f" stroke-width="1.1" stroke-linejoin="round"/><polygon points="120.70,1.20 122.15,3.95 125.22,4.48 123.05,6.71 123.49,9.79 120.70,8.42 117.91,9.79 118.35,6.71 116.18,4.48 119.25,3.95" fill="#f2a51f" stroke="#f2a51f" stroke-width="1.1" stroke-linejoin="round"/></svg><div class="lb" style="left:857.5px;top:20.6px">Perfect</div><svg class="st" style="left:851.75px;top:45.70px" width="126.2" height="11" viewBox="0 0 126.2 11"><polygon points="5.50,1.20 6.95,3.95 10.02,4.48 7.85,6.71 8.29,9.79 5.50,8.42 2.71,9.79 3.15,6.71 0.98,4.48 4.05,3.95" fill="#c81230" stroke="#c81230" stroke-width="1.1" stroke-linejoin="round"/><polygon points="18.30,1.20 19.75,3.95 22.82,4.48 20.65,6.71 21.09,9.79 18.30,8.42 15.51,9.79 15.95,6.71 13.78,4.48 16.85,3.95" fill="#c1112d" stroke="#c1112d" stroke-width="1.1" stroke-linejoin="round"/><polygon points="31.10,1.20 32.55,3.95 35.62,4.48 33.45,6.71 33.89,9.79 31.10,8.42 28.31,9.79 28.75,6.71 26.58,4.48 29.65,3.95" fill="#b9102a" stroke="#b9102a" stroke-width="1.1" stroke-linejoin="round"/><polygon points="43.90,1.20 45.35,3.95 48.42,4.48 46.25,6.71 46.69,9.79 43.90,8.42 41.11,9.79 41.55,6.71 39.38,4.48 42.45,3.95" fill="#b20f27" stroke="#b20f27" stroke-width="1.1" stroke-linejoin="round"/><polygon points="56.70,1.20 58.15,3.95 61.22,4.48 59.05,6.71 59.49,9.79 56.70,8.42 53.91,9.79 54.35,6.71 52.18,4.48 55.25,3.95" fill="#ab0e24" stroke="#ab0e24" stroke-width="1.1" stroke-linejoin="round"/><polygon points="69.50,1.20 70.95,3.95 74.02,4.48 71.85,6.71 72.29,9.79 69.50,8.42 66.71,9.79 67.15,6.71 64.98,4.48 68.05,3.95" fill="#a30e22" stroke="#a30e22" stroke-width="1.1" stroke-linejoin="round"/><polygon points="82.30,1.20 83.75,3.95 86.82,4.48 84.65,6.71 85.09,9.79 82.30,8.42 79.51,9.79 79.95,6.71 77.78,4.48 80.85,3.95" fill="#9c0d1f" stroke="#9c0d1f" stroke-width="1.1" stroke-linejoin="round"/><polygon points="95.10,1.20 96.55,3.95 99.62,4.48 97.45,6.71 97.89,9.79 95.10,8.42 92.31,9.79 92.75,6.71 90.58,4.48 93.65,3.95" fill="#950c1c" stroke="#950c1c" stroke-width="1.1" stroke-linejoin="round"/><polygon points="107.90,1.20 109.35,3.95 112.42,4.48 110.25,6.71 110.69,9.79 107.90,8.42 105.11,9.79 105.55,6.71 103.38,4.48 106.45,3.95" fill="#8d0b19" stroke="#8d0b19" stroke-width="1.1" stroke-linejoin="round"/><polygon points="120.70,1.20 122.15,3.95 125.22,4.48 123.05,6.71 123.49,9.79 120.70,8.42 117.91,9.79 118.35,6.71 116.18,4.48 119.25,3.95" fill="#860a16" stroke="#860a16" stroke-width="1.1" stroke-linejoin="round"/></svg></div>
<div class="row" style="top:734.5px"><div class="nm" style="top:11px">Katarzyna Sowińska</div><div class="dt" style="top:23.7px">22.07.1982</div><div class="dv"></div><div class="nm" style="top:53.3px">Jakub Wojewódzki</div><div class="dt" style="top:66px">02.08.1963</div><div class="av" style="left:148.5px;top:8.5px;background:#38261f"><svg width="26.5" height="26.5" viewBox="0 0 26.5 26.5"><g><rect x="-3" y="-3" width="33" height="33" fill="#38261f"/><path d="M5 21V8C6 3 9 1 14 1C19 1 22.5 3 23 8V20C22 24.5 18 27 14 27C10 27 6 25 5 21Z" fill="#dab6a6"/><path d="M0 5L5 0H26.5V2H22C18 0.5 10 0.5 7 3L5 8L4 5Z" fill="#38261f"/><path d="M0 0H5L0 5Z" fill="#ffffff"/><path d="M23 6L26.5 3V27H22Z" fill="#5c4030"/><ellipse cx="9.7" cy="11" rx="2.5" ry="1.2" fill="#38282a" opacity="0.9"/><ellipse cx="18.3" cy="11" rx="2.5" ry="1.2" fill="#38282a" opacity="0.9"/><rect x="13.2" y="11.5" width="1.8" height="6" fill="#c49a88" rx="0.9" opacity="0.55"/><path d="M9.5 19C12 20.5 16.5 20.5 19 19C17.5 22 11 22 9.5 19Z" fill="#5c2428"/></g></svg></div><div class="av" style="left:148.5px;top:50.7px;background:#d6d6da"><svg width="26.5" height="26.5" viewBox="0 0 26.5 26.5"><g><rect x="-3" y="-3" width="33" height="33" fill="#d6d6da"/><path d="M4 22V9C5 6 8 5 12.5 5C17.5 5 21 6 21.5 10V21C20 25 16.5 27 12.5 27C8.5 27 5 25.5 4 22Z" fill="#d2cac2"/><path d="M4 13H11V25C8 24.5 5 23.5 4 21Z" fill="#7a7270" opacity="0.8"/><path d="M1 0H24.5V5C24.5 8 23.5 9.5 22 10.5V8.5C19 6.5 16 7.5 12.5 7C9 7 6.5 7 4 9V11L1.5 9Z" fill="#101010"/><rect x="3.3" y="10.2" width="9" height="4.3" fill="#141414" rx="1.7"/><rect x="13.3" y="10.2" width="9" height="4.3" fill="#141414" rx="1.7"/><rect x="11" y="11" width="3.5" height="1.5" fill="#141414"/><rect x="5" y="11.3" width="5.6" height="2.1" fill="#55504c" rx="1" opacity="0.9"/><rect x="15" y="11.3" width="5.6" height="2.1" fill="#8e8a84" rx="1" opacity="0.9"/><path d="M10 14.5H15.5V23.5L12.5 25L10 23.5Z" fill="#3e3836" opacity="0.85"/><path d="M0 27L1.5 23.5L7 24.5L12.5 27ZM26.5 27L24.5 23L18 24.5L12.5 27Z" fill="#dedee2"/></g></svg></div><svg class="ic" style="left:213.00px;top:9.40px" width="18" height="25" viewBox="0 0 18 25"><g fill="none" stroke="#eda31e" stroke-width="3.1" stroke-linecap="round"><circle cx="9" cy="8" r="5.4" stroke-width="3.35"/><path d="M9 13.7V22.6M5.6 19.3H12.4"/></g></svg><svg class="ic" style="left:210.80px;top:52.40px" width="22" height="22" viewBox="0 0 22 22"><g fill="none" stroke="#eda31e" stroke-width="3.1"><circle cx="8" cy="14" r="5.35" stroke-width="3.45"/><path d="M12 10L19 3"/><path d="M13.6 2.6H19.4V8.4" stroke-linecap="round" stroke-linejoin="round"/></g></svg><div class="lb" style="left:335.8px;top:10.5px">High</div><svg class="st" style="left:331.50px;top:35.10px" width="126.2" height="11" viewBox="0 0 126.2 11"><polygon points="5.50,1.20 6.95,3.95 10.02,4.48 7.85,6.71 8.29,9.79 5.50,8.42 2.71,9.79 3.15,6.71 0.98,4.48 4.05,3.95" fill="#f2a51f" stroke="#f2a51f" stroke-width="1.1" stroke-linejoin="round"/><polygon points="18.30,1.20 19.75,3.95 22.82,4.48 20.65,6.71 21.09,9.79 18.30,8.42 15.51,9.79 15.95,6.71 13.78,4.48 16.85,3.95" fill="#f2a51f" stroke="#f2a51f" stroke-width="1.1" stroke-linejoin="round"/><polygon points="31.10,1.20 32.55,3.95 35.62,4.48 33.45,6.71 33.89,9.79 31.10,8.42 28.31,9.79 28.75,6.71 26.58,4.48 29.65,3.95" fill="#f2a51f" stroke="#f2a51f" stroke-width="1.1" stroke-linejoin="round"/><polygon points="43.90,1.20 45.35,3.95 48.42,4.48 46.25,6.71 46.69,9.79 43.90,8.42 41.11,9.79 41.55,6.71 39.38,4.48 42.45,3.95" fill="#f2a51f" stroke="#f2a51f" stroke-width="1.1" stroke-linejoin="round"/><polygon points="56.70,1.20 58.15,3.95 61.22,4.48 59.05,6.71 59.49,9.79 56.70,8.42 53.91,9.79 54.35,6.71 52.18,4.48 55.25,3.95" fill="#f2a51f" stroke="#f2a51f" stroke-width="1.1" stroke-linejoin="round"/><polygon points="69.50,1.20 70.95,3.95 74.02,4.48 71.85,6.71 72.29,9.79 69.50,8.42 66.71,9.79 67.15,6.71 64.98,4.48 68.05,3.95" fill="#f2a51f" stroke="#f2a51f" stroke-width="1.1" stroke-linejoin="round"/><polygon points="82.30,1.20 83.75,3.95 86.82,4.48 84.65,6.71 85.09,9.79 82.30,8.42 79.51,9.79 79.95,6.71 77.78,4.48 80.85,3.95" fill="#f2a51f" stroke="#f2a51f" stroke-width="1.1" stroke-linejoin="round"/><polygon points="95.10,1.20 96.55,3.95 99.62,4.48 97.45,6.71 97.89,9.79 95.10,8.42 92.31,9.79 92.75,6.71 90.58,4.48 93.65,3.95" fill="#f0f0f6" stroke="#f0f0f6" stroke-width="1.1" stroke-linejoin="round"/><polygon points="95.10,1.20 95.60,2.15 95.60,8.67 95.10,8.42 92.31,9.79 92.75,6.71 90.58,4.48 93.65,3.95" fill="#f2a51f" stroke="#f2a51f" stroke-width="1.1" stroke-linejoin="round"/><polygon points="107.90,1.20 109.35,3.95 112.42,4.48 110.25,6.71 110.69,9.79 107.90,8.42 105.11,9.79 105.55,6.71 103.38,4.48 106.45,3.95" fill="#dedede" stroke="#dedede" stroke-width="1.1" stroke-linejoin="round"/><polygon points="120.70,1.20 122.15,3.95 125.22,4.48 123.05,6.71 123.49,9.79 120.70,8.42 117.91,9.79 118.35,6.71 116.18,4.48 119.25,3.95" fill="#dedede" stroke="#dedede" stroke-width="1.1" stroke-linejoin="round"/></svg><div class="pc c1">75%</div><div class="pc c2">30%</div><div class="pc c3">85%</div><div class="lb" style="left:515px;top:21px">Perfect</div><svg class="st" style="left:548.05px;top:44.50px" width="48.5" height="14" viewBox="0 0 48.5 14"><g stroke="#f2a51f" stroke-width="2.3"><path d="M0.00 7H14.00M7.00 0V14"/><path d="M17.25 7H31.25M24.25 0V14"/><path d="M34.50 7H48.50M41.50 0V14"/></g></svg><div class="lb" style="left:648.6px;top:20.6px">Perfect</div><svg class="st" style="left:645.10px;top:45.70px" width="126.2" height="11" viewBox="0 0 126.2 11"><polygon points="5.50,1.20 6.95,3.95 10.02,4.48 7.85,6.71 8.29,9.79 5.50,8.42 2.71,9.79 3.15,6.71 0.98,4.48 4.05,3.95" fill="#f2a51f" stroke="#f2a51f" stroke-width="1.1" stroke-linejoin="round"/><polygon points="18.30,1.20 19.75,3.95 22.82,4.48 20.65,6.71 21.09,9.79 18.30,8.42 15.51,9.79 15.95,6.71 13.78,4.48 16.85,3.95" fill="#f2a51f" stroke="#f2a51f" stroke-width="1.1" stroke-linejoin="round"/><polygon points="31.10,1.20 32.55,3.95 35.62,4.48 33.45,6.71 33.89,9.79 31.10,8.42 28.31,9.79 28.75,6.71 26.58,4.48 29.65,3.95" fill="#f2a51f" stroke="#f2a51f" stroke-width="1.1" stroke-linejoin="round"/><polygon points="43.90,1.20 45.35,3.95 48.42,4.48 46.25,6.71 46.69,9.79 43.90,8.42 41.11,9.79 41.55,6.71 39.38,4.48 42.45,3.95" fill="#f2a51f" stroke="#f2a51f" stroke-width="1.1" stroke-linejoin="round"/><polygon points="56.70,1.20 58.15,3.95 61.22,4.48 59.05,6.71 59.49,9.79 56.70,8.42 53.91,9.79 54.35,6.71 52.18,4.48 55.25,3.95" fill="#f2a51f" stroke="#f2a51f" stroke-width="1.1" stroke-linejoin="round"/><polygon points="69.50,1.20 70.95,3.95 74.02,4.48 71.85,6.71 72.29,9.79 69.50,8.42 66.71,9.79 67.15,6.71 64.98,4.48 68.05,3.95" fill="#f2a51f" stroke="#f2a51f" stroke-width="1.1" stroke-linejoin="round"/><polygon points="82.30,1.20 83.75,3.95 86.82,4.48 84.65,6.71 85.09,9.79 82.30,8.42 79.51,9.79 79.95,6.71 77.78,4.48 80.85,3.95" fill="#f2a51f" stroke="#f2a51f" stroke-width="1.1" stroke-linejoin="round"/><polygon points="95.10,1.20 96.55,3.95 99.62,4.48 97.45,6.71 97.89,9.79 95.10,8.42 92.31,9.79 92.75,6.71 90.58,4.48 93.65,3.95" fill="#f2a51f" stroke="#f2a51f" stroke-width="1.1" stroke-linejoin="round"/><polygon points="107.90,1.20 109.35,3.95 112.42,4.48 110.25,6.71 110.69,9.79 107.90,8.42 105.11,9.79 105.55,6.71 103.38,4.48 106.45,3.95" fill="#f2a51f" stroke="#f2a51f" stroke-width="1.1" stroke-linejoin="round"/><polygon points="120.70,1.20 122.15,3.95 125.22,4.48 123.05,6.71 123.49,9.79 120.70,8.42 117.91,9.79 118.35,6.71 116.18,4.48 119.25,3.95" fill="#f2a51f" stroke="#f2a51f" stroke-width="1.1" stroke-linejoin="round"/></svg><div class="lb" style="left:857.5px;top:20.6px">Perfect</div><svg class="st" style="left:851.75px;top:45.70px" width="126.2" height="11" viewBox="0 0 126.2 11"><polygon points="5.50,1.20 6.95,3.95 10.02,4.48 7.85,6.71 8.29,9.79 5.50,8.42 2.71,9.79 3.15,6.71 0.98,4.48 4.05,3.95" fill="#c81230" stroke="#c81230" stroke-width="1.1" stroke-linejoin="round"/><polygon points="18.30,1.20 19.75,3.95 22.82,4.48 20.65,6.71 21.09,9.79 18.30,8.42 15.51,9.79 15.95,6.71 13.78,4.48 16.85,3.95" fill="#c1112d" stroke="#c1112d" stroke-width="1.1" stroke-linejoin="round"/><polygon points="31.10,1.20 32.55,3.95 35.62,4.48 33.45,6.71 33.89,9.79 31.10,8.42 28.31,9.79 28.75,6.71 26.58,4.48 29.65,3.95" fill="#b9102a" stroke="#b9102a" stroke-width="1.1" stroke-linejoin="round"/><polygon points="43.90,1.20 45.35,3.95 48.42,4.48 46.25,6.71 46.69,9.79 43.90,8.42 41.11,9.79 41.55,6.71 39.38,4.48 42.45,3.95" fill="#b20f27" stroke="#b20f27" stroke-width="1.1" stroke-linejoin="round"/><polygon points="56.70,1.20 58.15,3.95 61.22,4.48 59.05,6.71 59.49,9.79 56.70,8.42 53.91,9.79 54.35,6.71 52.18,4.48 55.25,3.95" fill="#ab0e24" stroke="#ab0e24" stroke-width="1.1" stroke-linejoin="round"/><polygon points="69.50,1.20 70.95,3.95 74.02,4.48 71.85,6.71 72.29,9.79 69.50,8.42 66.71,9.79 67.15,6.71 64.98,4.48 68.05,3.95" fill="#a30e22" stroke="#a30e22" stroke-width="1.1" stroke-linejoin="round"/><polygon points="82.30,1.20 83.75,3.95 86.82,4.48 84.65,6.71 85.09,9.79 82.30,8.42 79.51,9.79 79.95,6.71 77.78,4.48 80.85,3.95" fill="#9c0d1f" stroke="#9c0d1f" stroke-width="1.1" stroke-linejoin="round"/><polygon points="95.10,1.20 96.55,3.95 99.62,4.48 97.45,6.71 97.89,9.79 95.10,8.42 92.31,9.79 92.75,6.71 90.58,4.48 93.65,3.95" fill="#950c1c" stroke="#950c1c" stroke-width="1.1" stroke-linejoin="round"/><polygon points="107.90,1.20 109.35,3.95 112.42,4.48 110.25,6.71 110.69,9.79 107.90,8.42 105.11,9.79 105.55,6.71 103.38,4.48 106.45,3.95" fill="#8d0b19" stroke="#8d0b19" stroke-width="1.1" stroke-linejoin="round"/><polygon points="120.70,1.20 122.15,3.95 125.22,4.48 123.05,6.71 123.49,9.79 120.70,8.42 117.91,9.79 118.35,6.71 116.18,4.48 119.25,3.95" fill="#860a16" stroke="#860a16" stroke-width="1.1" stroke-linejoin="round"/></svg></div>
</body></html>
